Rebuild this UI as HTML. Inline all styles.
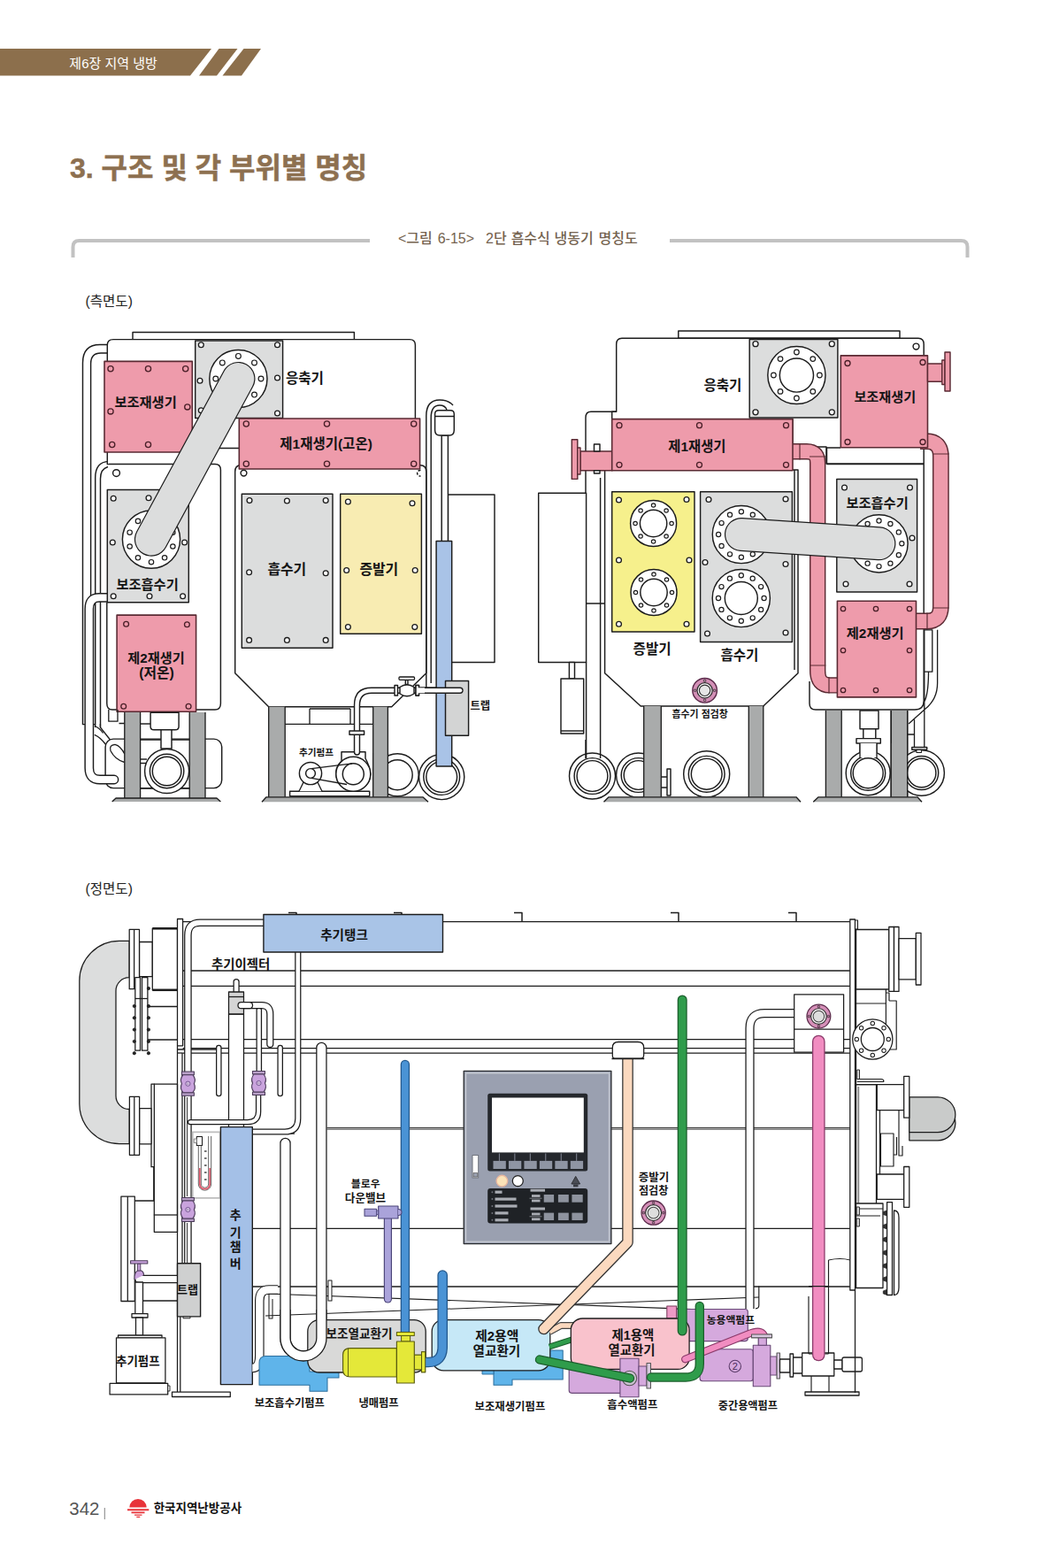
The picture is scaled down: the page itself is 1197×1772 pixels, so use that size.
<!DOCTYPE html>
<html lang="ko"><head><meta charset="utf-8"><title>제6장 지역 냉방</title>
<style>html,body{margin:0;padding:0;background:#fff}body{width:1197px;height:1772px;overflow:hidden;font-family:"Liberation Sans","Noto Sans CJK KR",sans-serif}svg{display:block}svg text{font-family:"Liberation Sans","Noto Sans CJK KR",sans-serif}.lb{fill:#141414;font-weight:700}</style></head>
<body><svg width="1197" height="1772" viewBox="0 0 1197 1772">
<path d="M0 55H239L215 85.5H0Z" fill="#8c6f4c"/>
<path d="M247.5 55H268.5L245 85.5H225Z" fill="#8c6f4c"/>
<path d="M275.5 55H295L273 85.5H251.5Z" fill="#8c6f4c"/>
<text x="78.33" y="76.58" font-size="15" fill="#fff">제6장 지역 냉방</text>
<text x="79.04" y="201.21" font-size="32" font-weight="700" fill="#8d7050" stroke="#8d7050" stroke-width="0.5">3. 구조 및 각 부위별 명칭</text>
<path d="M82.5 291V279Q82.5 272 89.5 272H418" fill="none" stroke="#c2c2c2" stroke-width="4"/>
<path d="M757 272H1086.5Q1093.5 272 1093.5 279V291" fill="none" stroke="#c2c2c2" stroke-width="4"/>
<text y="275.44" font-size="16" font-weight="500" fill="#75634f"><tspan x="449.95">&lt;그림</tspan> <tspan x="494.71">6-15&gt;</tspan> <tspan x="549">2단</tspan> <tspan x="577.63">흡수식</tspan> <tspan x="626.61">냉동기</tspan> <tspan x="676.58">명칭도</tspan></text>
<text x="96.47" y="345.59" font-size="15.6" fill="#222">(측면도)</text>
<text x="96.47" y="1010.44" font-size="15.6" fill="#222">(정면도)</text>
<text x="78.32" y="1711.93" font-size="20.4" fill="#555">342</text>
<line x1="118.30" y1="1704.00" x2="118.30" y2="1717.00" stroke="#888" stroke-width="1.06"/>
<path d="M146.3 1703.6A9.7 9.7 0 0 1 165.7 1703.6Z" fill="#e8333a"/>
<path d="M144 1705.2H168.3V1707.2H144Z M148.5 1708.6H163.5V1710.2H148.5Z M152 1711.4H160.5V1712.8H152Z M154.3 1713.8H158.3V1715H154.3Z" fill="#e8333a"/>
<text x="173.70" y="1709.30" font-size="13.5" font-weight="700" fill="#111">한국지역난방공사</text>
<g id="sideA" stroke-linejoin="round">
<path d="M122 389.4H113Q93.5 389.4 93.5 410V818.6H107 M122 399H114Q102.6 399 102.6 411V680" fill="none" stroke="#1c1c1c" stroke-width="1.45" />
<path d="M123 521.4Q107.7 522 107.7 540V822 M122 527.5Q113.5 530 113.5 541V822" fill="none" stroke="#1c1c1c" stroke-width="1.45" />
<rect x="119.10" y="835.10" width="131.60" height="55.50" fill="#fff" stroke="#1c1c1c" stroke-width="1.45" rx="9" />
<rect x="150.00" y="375.40" width="250.40" height="8.40" fill="#fff" stroke="#1c1c1c" stroke-width="1.45" />
<path d="M121.3 524.6V390Q121.3 383.6 128 383.6H463Q469.4 383.6 469.4 390V506.5H217V524.6Z" fill="#fff" stroke="#1c1c1c" stroke-width="1.45" />
<path d="M122.9 524.4H243Q249.4 524.4 249.4 531V795Q249.4 802 243 802H127Q120.8 802 120.8 795V681" fill="#fff" stroke="#1c1c1c" stroke-width="1.45" />
<circle cx="131.50" cy="534.60" r="3.90" fill="#fff" stroke="#1c1c1c" stroke-width="1.45"/>
<path d="M265.7 533Q265.7 525.7 272 525.7H475Q481.8 525.7 481.8 533V760.7L442.7 798.7H303.7L265.7 760.7Z" fill="#fff" stroke="#1c1c1c" stroke-width="1.45" />
<circle cx="275.50" cy="534.60" r="3.40" fill="#fff" stroke="#1c1c1c" stroke-width="1.45"/>
<path d="M475.5 531.5A3.3 3.3 0 1 0 475.5 538" fill="none" stroke="#1c1c1c" stroke-width="1.45" stroke-dasharray="3 1.6"/>
<rect x="506.40" y="559.00" width="52.60" height="189.40" fill="#fff" stroke="#1c1c1c" stroke-width="1.45" />
<rect x="118.00" y="408.40" width="99.30" height="102.60" fill="#ee9bab" stroke="#5a2a33" stroke-width="1.58" />
<circle cx="125.00" cy="416.70" r="3.10" fill="none" stroke="#4a1f28" stroke-width="1.32"/>
<circle cx="167.50" cy="416.70" r="3.10" fill="none" stroke="#4a1f28" stroke-width="1.32"/>
<circle cx="209.70" cy="416.70" r="3.10" fill="none" stroke="#4a1f28" stroke-width="1.32"/>
<circle cx="125.00" cy="464.90" r="3.10" fill="none" stroke="#4a1f28" stroke-width="1.32"/>
<circle cx="211.80" cy="459.90" r="3.10" fill="none" stroke="#4a1f28" stroke-width="1.32"/>
<circle cx="126.70" cy="502.50" r="3.10" fill="none" stroke="#4a1f28" stroke-width="1.32"/>
<circle cx="167.50" cy="502.50" r="3.10" fill="none" stroke="#4a1f28" stroke-width="1.32"/>
<rect x="220.70" y="385.00" width="98.90" height="87.50" fill="#dcdddd" stroke="#1c1c1c" stroke-width="1.45" />
<circle cx="227.30" cy="389.80" r="2.90" fill="#fff" stroke="#1c1c1c" stroke-width="1.32"/>
<circle cx="313.50" cy="389.80" r="2.90" fill="#fff" stroke="#1c1c1c" stroke-width="1.32"/>
<circle cx="226.00" cy="430.20" r="2.90" fill="#fff" stroke="#1c1c1c" stroke-width="1.32"/>
<circle cx="313.50" cy="427.00" r="2.90" fill="#fff" stroke="#1c1c1c" stroke-width="1.32"/>
<circle cx="227.30" cy="463.80" r="2.90" fill="#fff" stroke="#1c1c1c" stroke-width="1.32"/>
<circle cx="313.50" cy="467.00" r="2.90" fill="#fff" stroke="#1c1c1c" stroke-width="1.32"/>
<circle cx="269.40" cy="428.00" r="32.60" fill="#fff" stroke="#1c1c1c" stroke-width="1.45"/>
<circle cx="269.40" cy="402.40" r="2.90" fill="#fff" stroke="#1c1c1c" stroke-width="1.19"/>
<circle cx="251.30" cy="409.90" r="2.90" fill="#fff" stroke="#1c1c1c" stroke-width="1.19"/>
<circle cx="243.80" cy="428.00" r="2.90" fill="#fff" stroke="#1c1c1c" stroke-width="1.19"/>
<circle cx="251.30" cy="446.10" r="2.90" fill="#fff" stroke="#1c1c1c" stroke-width="1.19"/>
<circle cx="269.40" cy="453.60" r="2.90" fill="#fff" stroke="#1c1c1c" stroke-width="1.19"/>
<circle cx="287.50" cy="446.10" r="2.90" fill="#fff" stroke="#1c1c1c" stroke-width="1.19"/>
<circle cx="295.00" cy="428.00" r="2.90" fill="#fff" stroke="#1c1c1c" stroke-width="1.19"/>
<circle cx="287.50" cy="409.90" r="2.90" fill="#fff" stroke="#1c1c1c" stroke-width="1.19"/>
<path d="M126 675.4H112Q100.8 675.4 100.8 688V868Q100.8 881 113 881H129" fill="none" stroke="#1c1c1c" stroke-width="10.80" stroke-linecap="round" stroke-linejoin="round"/>
<path d="M126 675.4H112Q100.8 675.4 100.8 688V868Q100.8 881 113 881H129" fill="none" stroke="#fff" stroke-width="7.90" stroke-linecap="round" stroke-linejoin="round"/>
<rect x="121.30" y="553.50" width="92.00" height="127.30" fill="#dcdddd" stroke="#1c1c1c" stroke-width="1.45" />
<circle cx="128.20" cy="563.30" r="2.90" fill="#fff" stroke="#1c1c1c" stroke-width="1.32"/>
<circle cx="168.00" cy="562.70" r="2.90" fill="#fff" stroke="#1c1c1c" stroke-width="1.32"/>
<circle cx="127.30" cy="613.00" r="2.90" fill="#fff" stroke="#1c1c1c" stroke-width="1.32"/>
<circle cx="208.60" cy="613.00" r="2.90" fill="#fff" stroke="#1c1c1c" stroke-width="1.32"/>
<circle cx="128.20" cy="673.80" r="2.90" fill="#fff" stroke="#1c1c1c" stroke-width="1.32"/>
<circle cx="169.00" cy="673.80" r="2.90" fill="#fff" stroke="#1c1c1c" stroke-width="1.32"/>
<circle cx="206.60" cy="673.80" r="2.90" fill="#fff" stroke="#1c1c1c" stroke-width="1.32"/>
<circle cx="171.00" cy="609.60" r="32.60" fill="#fff" stroke="#1c1c1c" stroke-width="1.45"/>
<circle cx="171.00" cy="584.00" r="2.70" fill="#fff" stroke="#1c1c1c" stroke-width="1.19"/>
<circle cx="155.95" cy="588.89" r="2.70" fill="#fff" stroke="#1c1c1c" stroke-width="1.19"/>
<circle cx="146.65" cy="601.69" r="2.70" fill="#fff" stroke="#1c1c1c" stroke-width="1.19"/>
<circle cx="146.65" cy="617.51" r="2.70" fill="#fff" stroke="#1c1c1c" stroke-width="1.19"/>
<circle cx="155.95" cy="630.31" r="2.70" fill="#fff" stroke="#1c1c1c" stroke-width="1.19"/>
<circle cx="171.00" cy="635.20" r="2.70" fill="#fff" stroke="#1c1c1c" stroke-width="1.19"/>
<circle cx="186.05" cy="630.31" r="2.70" fill="#fff" stroke="#1c1c1c" stroke-width="1.19"/>
<circle cx="195.35" cy="617.51" r="2.70" fill="#fff" stroke="#1c1c1c" stroke-width="1.19"/>
<circle cx="195.35" cy="601.69" r="2.70" fill="#fff" stroke="#1c1c1c" stroke-width="1.19"/>
<circle cx="186.05" cy="588.89" r="2.70" fill="#fff" stroke="#1c1c1c" stroke-width="1.19"/>
<line x1="269.4" y1="428" x2="171" y2="609.6" stroke="#1c1c1c" stroke-width="38.2" stroke-linecap="round"/>
<line x1="269.4" y1="428" x2="171" y2="609.6" stroke="#dcdddd" stroke-width="35.8" stroke-linecap="round"/>
<rect x="270.30" y="473.00" width="204.30" height="57.00" fill="#ee9bab" stroke="#5a2a33" stroke-width="1.58" />
<circle cx="278.30" cy="479.00" r="3.10" fill="none" stroke="#4a1f28" stroke-width="1.32"/>
<circle cx="369.50" cy="479.00" r="3.10" fill="none" stroke="#4a1f28" stroke-width="1.32"/>
<circle cx="467.70" cy="479.00" r="3.10" fill="none" stroke="#4a1f28" stroke-width="1.32"/>
<circle cx="278.30" cy="524.20" r="3.10" fill="none" stroke="#4a1f28" stroke-width="1.32"/>
<circle cx="369.50" cy="524.20" r="3.10" fill="none" stroke="#4a1f28" stroke-width="1.32"/>
<circle cx="467.70" cy="524.20" r="3.10" fill="none" stroke="#4a1f28" stroke-width="1.32"/>
<rect x="273.30" y="558.30" width="102.70" height="174.00" fill="#dcdddd" stroke="#1c1c1c" stroke-width="1.45" />
<circle cx="282.00" cy="565.60" r="2.90" fill="#fff" stroke="#1c1c1c" stroke-width="1.32"/>
<circle cx="324.40" cy="566.00" r="2.90" fill="#fff" stroke="#1c1c1c" stroke-width="1.32"/>
<circle cx="368.20" cy="565.60" r="2.90" fill="#fff" stroke="#1c1c1c" stroke-width="1.32"/>
<circle cx="281.60" cy="646.70" r="2.90" fill="#fff" stroke="#1c1c1c" stroke-width="1.32"/>
<circle cx="368.20" cy="647.80" r="2.90" fill="#fff" stroke="#1c1c1c" stroke-width="1.32"/>
<circle cx="281.60" cy="723.40" r="2.90" fill="#fff" stroke="#1c1c1c" stroke-width="1.32"/>
<circle cx="324.40" cy="723.40" r="2.90" fill="#fff" stroke="#1c1c1c" stroke-width="1.32"/>
<circle cx="368.20" cy="723.40" r="2.90" fill="#fff" stroke="#1c1c1c" stroke-width="1.32"/>
<rect x="384.70" y="558.30" width="91.70" height="157.90" fill="#f8ecb2" stroke="#1c1c1c" stroke-width="1.45" />
<circle cx="393.40" cy="567.00" r="2.90" fill="#fff" stroke="#1c1c1c" stroke-width="1.32"/>
<circle cx="466.00" cy="568.70" r="2.90" fill="#fff" stroke="#1c1c1c" stroke-width="1.32"/>
<circle cx="391.70" cy="644.50" r="2.90" fill="#fff" stroke="#1c1c1c" stroke-width="1.32"/>
<circle cx="469.20" cy="644.50" r="2.90" fill="#fff" stroke="#1c1c1c" stroke-width="1.32"/>
<circle cx="393.40" cy="708.60" r="2.90" fill="#fff" stroke="#1c1c1c" stroke-width="1.32"/>
<circle cx="468.80" cy="708.60" r="2.90" fill="#fff" stroke="#1c1c1c" stroke-width="1.32"/>
<rect x="132.10" y="695.10" width="89.50" height="109.10" fill="#ee9bab" stroke="#5a2a33" stroke-width="1.58" />
<circle cx="142.60" cy="705.30" r="2.90" fill="none" stroke="#4a1f28" stroke-width="1.32"/>
<circle cx="211.40" cy="705.80" r="2.90" fill="none" stroke="#4a1f28" stroke-width="1.32"/>
<circle cx="139.70" cy="798.20" r="2.90" fill="none" stroke="#4a1f28" stroke-width="1.32"/>
<circle cx="213.10" cy="798.20" r="2.90" fill="none" stroke="#4a1f28" stroke-width="1.32"/>
<path d="M113.4 818V822L124.5 836 M106.8 820.5Q112.5 822.5 116.5 828.5 M106.8 830.3Q114 833.5 119.6 841.5" fill="none" stroke="#1c1c1c" stroke-width="1.32" />
<path d="M140.8 852Q136.5 843 130 841.3Q123 842 125 848.5Q130 858.5 140.8 861.5" fill="none" stroke="#1c1c1c" stroke-width="1.32" />
<path d="M122.8 802V815.2H133V802 M134.5 817.5H140.8" fill="none" stroke="#1c1c1c" stroke-width="1.32" />
<rect x="140.80" y="805.00" width="17.80" height="97.00" fill="#a9abab" stroke="none" stroke-width="0.0" />
<rect x="214.20" y="805.00" width="17.80" height="97.00" fill="#a9abab" stroke="none" stroke-width="0.0" />
<path d="M140.8 805V902 M158.6 805V902 M214.2 805V902 M232 805V902" fill="none" stroke="#1c1c1c" stroke-width="1.32" />
<line x1="158.60" y1="818.00" x2="170.00" y2="818.00" stroke="#1c1c1c" stroke-width="1.45"/>
<line x1="158.60" y1="836.00" x2="214.20" y2="836.00" stroke="#1c1c1c" stroke-width="1.45"/>
<line x1="158.60" y1="891.00" x2="214.20" y2="891.00" stroke="#1c1c1c" stroke-width="1.45"/>
<path d="M170.1 805.3H202.1V821Q202.1 824.8 198 824.8H174Q170.1 824.8 170.1 821Z" fill="#fff" stroke="#1c1c1c" stroke-width="1.45" />
<rect x="182.00" y="824.80" width="12.00" height="21.20" fill="#fff" stroke="#1c1c1c" stroke-width="1.45" />
<circle cx="188.60" cy="871.50" r="25.00" fill="#fff" stroke="#1c1c1c" stroke-width="1.45"/>
<circle cx="188.60" cy="871.50" r="19.20" fill="#fff" stroke="#1c1c1c" stroke-width="1.45"/>
<circle cx="188.60" cy="871.50" r="16.30" fill="#fff" stroke="#1c1c1c" stroke-width="1.45"/>
<line x1="158.60" y1="858.00" x2="166.00" y2="858.00" stroke="#1c1c1c" stroke-width="1.45"/>
<line x1="158.60" y1="862.50" x2="165.00" y2="862.50" stroke="#1c1c1c" stroke-width="1.45"/>
<path d="M126.7 906L131 902H245L249.4 906Z" fill="#a9abab" stroke="none" stroke-width="0.0" />
<path d="M126.7 906L131 902H245L249.4 906" fill="none" stroke="#1c1c1c" stroke-width="1.32" />
<rect x="303.70" y="798.70" width="18.50" height="102.30" fill="#a9abab" stroke="none" stroke-width="0.0" />
<rect x="421.70" y="798.70" width="16.70" height="102.30" fill="#a9abab" stroke="none" stroke-width="0.0" />
<path d="M303.7 798.7V901 M322.2 798.7V901 M421.7 798.7V901 M438.4 798.7V901" fill="none" stroke="#1c1c1c" stroke-width="1.32" />
<path d="M322.2 818.3H421.7 M350 801V818.3 M396 801V818.3 M350 801H396" fill="none" stroke="#1c1c1c" stroke-width="1.32" />
<rect x="327.60" y="894.30" width="90.10" height="5.40" fill="#fff" stroke="#1c1c1c" stroke-width="1.45" />
<path d="M338 894.3L343 884H359L364 894.3" fill="#fff" stroke="#1c1c1c" stroke-width="1.32" />
<path d="M386 849.8H413V857Q418 866 418.8 874.8A19.5 19.5 0 1 1 386 860Z" fill="#fff" stroke="#1c1c1c" stroke-width="1.45" />
<circle cx="399.30" cy="874.80" r="19.50" fill="#fff" stroke="#1c1c1c" stroke-width="1.45"/>
<circle cx="399.30" cy="874.80" r="12.00" fill="#fff" stroke="#1c1c1c" stroke-width="1.45"/>
<circle cx="351.00" cy="874.00" r="12.60" fill="#fff" stroke="#1c1c1c" stroke-width="1.45"/>
<circle cx="351.00" cy="874.00" r="5.40" fill="#fff" stroke="#1c1c1c" stroke-width="1.45"/>
<path d="M352 868.6L398 862.8 M352 879.4L392 886.5" fill="none" stroke="#1c1c1c" stroke-width="1.32" />
<path d="M403.5 850V797Q403.5 780.3 420 780.3H520" fill="none" stroke="#1c1c1c" stroke-width="7.40" stroke-linecap="round" stroke-linejoin="round"/>
<path d="M403.5 850V797Q403.5 780.3 420 780.3H520" fill="none" stroke="#fff" stroke-width="4.50" stroke-linecap="round" stroke-linejoin="round"/>
<rect x="395.00" y="826.00" width="16.60" height="4.20" fill="#fff" stroke="#1c1c1c" stroke-width="1.45" />
<rect x="446.00" y="774.50" width="3.50" height="11.50" fill="#fff" stroke="#1c1c1c" stroke-width="1.45" />
<rect x="470.00" y="774.50" width="3.50" height="11.50" fill="#fff" stroke="#1c1c1c" stroke-width="1.45" />
<path d="M452 776.5Q460 771 468 776.5V784Q460 789.5 452 784Z" fill="#fff" stroke="#1c1c1c" stroke-width="1.45" />
<rect x="458.30" y="768.50" width="2.70" height="5.00" fill="#fff" stroke="#1c1c1c" stroke-width="1.45" />
<rect x="451.00" y="765.00" width="17.50" height="3.30" fill="#fff" stroke="#1c1c1c" stroke-width="1.32" rx="1" />
<circle cx="449.20" cy="875.80" r="24.00" fill="#fff" stroke="#1c1c1c" stroke-width="1.45"/>
<circle cx="449.20" cy="875.80" r="17.00" fill="#fff" stroke="#1c1c1c" stroke-width="1.45"/>
<rect x="421.70" y="851.00" width="16.70" height="50.00" fill="#a9abab" stroke="none" stroke-width="0.0" />
<path d="M421.7 851V901 M438.4 851V901" fill="none" stroke="#1c1c1c" stroke-width="1.32" />
<circle cx="499.20" cy="878.00" r="25.60" fill="#fff" stroke="#1c1c1c" stroke-width="1.45"/>
<circle cx="499.20" cy="878.00" r="20.40" fill="#fff" stroke="#1c1c1c" stroke-width="1.45"/>
<circle cx="499.20" cy="878.00" r="17.40" fill="#fff" stroke="#1c1c1c" stroke-width="1.45"/>
<path d="M296 906.3L301 900.8H478L484 906.3Z" fill="#a9abab" stroke="none" stroke-width="0.0" />
<path d="M296 906.3L301 900.8H478L484 906.3" fill="none" stroke="#1c1c1c" stroke-width="1.32" />
<path d="M481.8 780V470Q481.8 452 497 452Q507 452 512 458 M487.2 772V472Q487.2 458 497 458Q503 458 505 463" fill="none" stroke="#1c1c1c" stroke-width="1.45" />
<rect x="499.20" y="492.00" width="7.20" height="120.00" fill="#fff" stroke="#1c1c1c" stroke-width="1.45" />
<path d="M491.6 468Q491.6 463.8 496 463.8H509Q513.3 463.8 513.3 468V486Q513.3 492 508 492H497Q491.6 492 491.6 486Z" fill="#fff" stroke="#1c1c1c" stroke-width="1.45" />
<line x1="491.60" y1="470.50" x2="513.30" y2="470.50" stroke="#1c1c1c" stroke-width="1.45"/>
<rect x="493.10" y="611.50" width="17.60" height="254.50" fill="#a9c3e7" stroke="#1c1c1c" stroke-width="1.45" />
<rect x="503.50" y="769.40" width="26.10" height="61.90" fill="#d3d4d4" stroke="#1c1c1c" stroke-width="1.45" />
<path d="M476 780.3H520" fill="none" stroke="#1c1c1c" stroke-width="7.40" stroke-linecap="round" stroke-linejoin="round"/>
<path d="M476 780.3H520" fill="none" stroke="#fff" stroke-width="4.50" stroke-linecap="round" stroke-linejoin="round"/>
<rect x="470.00" y="774.50" width="3.50" height="11.50" fill="#fff" stroke="#1c1c1c" stroke-width="1.45" />
<rect x="472" y="777.3" width="8" height="6" fill="#fff"/>
<text class="lb" x="129.40" y="459.52" font-size="15.3">보조재생기</text>
<text class="lb" x="322.91" y="432.87" font-size="15.6">응축기</text>
<text class="lb" x="316.30" y="507.18" font-size="15.5">제1재생기(고온)</text>
<text class="lb" x="131.40" y="665.94" font-size="15.3">보조흡수기</text>
<text class="lb" x="302.39" y="648.89" font-size="15.9">흡수기</text>
<text class="lb" x="406.39" y="648.87" font-size="15.9">증발기</text>
<text class="lb" x="144.31" y="748.97" font-size="15.2">제2재생기</text>
<text class="lb" x="157.2" y="766.38" font-size="15.8">(저온)</text>
<text class="lb" x="531.52" y="801.53" font-size="12.3">트랩</text>
<text class="lb" x="338.09" y="854.48" font-size="10.6">추기펌프</text>
</g>
<g id="sideB" stroke-linejoin="round">
<circle cx="669.50" cy="877.00" r="26.00" fill="#fff" stroke="#1c1c1c" stroke-width="1.45"/>
<circle cx="669.50" cy="877.00" r="20.40" fill="#fff" stroke="#1c1c1c" stroke-width="1.45"/>
<circle cx="669.50" cy="877.00" r="17.40" fill="#fff" stroke="#1c1c1c" stroke-width="1.45"/>
<circle cx="721.60" cy="876.00" r="25.00" fill="#fff" stroke="#1c1c1c" stroke-width="1.45"/>
<circle cx="721.60" cy="876.00" r="19.40" fill="#fff" stroke="#1c1c1c" stroke-width="1.45"/>
<circle cx="721.60" cy="876.00" r="16.40" fill="#fff" stroke="#1c1c1c" stroke-width="1.45"/>
<circle cx="798.70" cy="874.80" r="26.00" fill="#fff" stroke="#1c1c1c" stroke-width="1.45"/>
<circle cx="798.70" cy="874.80" r="20.40" fill="#fff" stroke="#1c1c1c" stroke-width="1.45"/>
<circle cx="798.70" cy="874.80" r="17.40" fill="#fff" stroke="#1c1c1c" stroke-width="1.45"/>
<rect x="608.70" y="557.20" width="53.90" height="191.20" fill="#fff" stroke="#1c1c1c" stroke-width="1.45" />
<rect x="643.40" y="748.40" width="6.10" height="18.60" fill="#fff" stroke="#1c1c1c" stroke-width="1.45" />
<rect x="634.00" y="767.00" width="25.70" height="62.00" fill="#fff" stroke="#1c1c1c" stroke-width="1.45" />
<line x1="634.00" y1="826.00" x2="659.70" y2="826.00" stroke="#1c1c1c" stroke-width="1.45"/>
<path d="M662.6 748.4V857 M678.6 540V857 M662.6 682H683.6" fill="none" stroke="#1c1c1c" stroke-width="1.45" />
<path d="M662 857V836" fill="none" stroke="#1c1c1c" stroke-width="1.45" />
<rect x="766.80" y="374.00" width="250.20" height="8.20" fill="#fff" stroke="#1c1c1c" stroke-width="1.45" />
<path d="M696.7 465.3V389Q696.7 382.2 703 382.2H1038Q1044.2 382.2 1044.2 389V524H934V505H896V473.6H691.7V465.3Z" fill="#fff" stroke="#1c1c1c" stroke-width="1.45" />
<path d="M696.7 465.3H668Q662 465.3 662 472V557" fill="none" stroke="#1c1c1c" stroke-width="1.45" />
<circle cx="1035.50" cy="391.50" r="3.40" fill="#fff" stroke="#1c1c1c" stroke-width="1.45"/>
<path d="M934.5 524.6H1044.2V792Q1044.2 802 1034 802H922Q915 802 915 795V770" fill="#fff" stroke="#1c1c1c" stroke-width="1.45" />
<path d="M934.5 524.6V506H950" fill="none" stroke="#1c1c1c" stroke-width="1.45" />
<path d="M683.6 531V760.7L724.2 798H862.8L902 760.7V531Z" fill="#fff" stroke="#1c1c1c" stroke-width="1.45" />
<line x1="898.00" y1="531.00" x2="898.00" y2="757.00" stroke="#1c1c1c" stroke-width="1.45"/>
<path d="M890 510.2H912Q924.2 510.2 924.2 523V758Q924.2 774.4 938 774.4H950" fill="none" stroke="#5a2a33" stroke-width="18.40" stroke-linecap="butt" stroke-linejoin="round"/>
<path d="M890 510.2H912Q924.2 510.2 924.2 523V758Q924.2 774.4 938 774.4H950" fill="none" stroke="#ee9bab" stroke-width="15.50" stroke-linecap="butt" stroke-linejoin="round"/>
<path d="M1040 498.6H1047Q1063.4 498.6 1063.4 516V685Q1063.4 702 1048 702H1030" fill="none" stroke="#5a2a33" stroke-width="18.80" stroke-linecap="butt" stroke-linejoin="round"/>
<path d="M1040 498.6H1047Q1063.4 498.6 1063.4 516V685Q1063.4 702 1048 702H1030" fill="none" stroke="#ee9bab" stroke-width="15.90" stroke-linecap="butt" stroke-linejoin="round"/>
<path d="M904 501V519.4 M915 516H933.4 M915 752H933.4 M937 765.2V783.6 M1054 513H1072.8 M1054 687H1072.8 M1048 692.6V711.4" fill="none" stroke="#5a2a33" stroke-width="1.19" />
<rect x="656.00" y="510.00" width="36.00" height="21.80" fill="#ee9bab" stroke="#5a2a33" stroke-width="1.45" />
<rect x="646.30" y="496.80" width="6.50" height="44.60" fill="#ee9bab" stroke="#5a2a33" stroke-width="1.45" />
<rect x="652.80" y="506.00" width="3.20" height="30.00" fill="#ee9bab" stroke="#5a2a33" stroke-width="1.32" />
<rect x="671.50" y="502.00" width="6.50" height="8.00" fill="#fff" stroke="#1c1c1c" stroke-width="1.45" />
<rect x="671.50" y="531.80" width="6.50" height="3.20" fill="#fff" stroke="#1c1c1c" stroke-width="1.45" />
<rect x="691.70" y="473.60" width="204.30" height="58.20" fill="#ee9bab" stroke="#5a2a33" stroke-width="1.58" />
<circle cx="700.00" cy="480.70" r="3.00" fill="none" stroke="#4a1f28" stroke-width="1.32"/>
<circle cx="790.50" cy="480.70" r="3.00" fill="none" stroke="#4a1f28" stroke-width="1.32"/>
<circle cx="888.50" cy="480.70" r="3.00" fill="none" stroke="#4a1f28" stroke-width="1.32"/>
<circle cx="700.00" cy="525.30" r="3.00" fill="none" stroke="#4a1f28" stroke-width="1.32"/>
<circle cx="790.50" cy="525.30" r="3.00" fill="none" stroke="#4a1f28" stroke-width="1.32"/>
<circle cx="888.50" cy="525.30" r="3.00" fill="none" stroke="#4a1f28" stroke-width="1.32"/>
<rect x="847.20" y="383.50" width="99.70" height="88.40" fill="#dcdddd" stroke="#1c1c1c" stroke-width="1.45" />
<circle cx="854.00" cy="388.70" r="3.00" fill="#fff" stroke="#1c1c1c" stroke-width="1.32"/>
<circle cx="940.30" cy="388.70" r="3.00" fill="#fff" stroke="#1c1c1c" stroke-width="1.32"/>
<circle cx="854.00" cy="465.80" r="3.00" fill="#fff" stroke="#1c1c1c" stroke-width="1.32"/>
<circle cx="940.30" cy="465.80" r="3.00" fill="#fff" stroke="#1c1c1c" stroke-width="1.32"/>
<circle cx="900.40" cy="424.00" r="32.60" fill="#fff" stroke="#1c1c1c" stroke-width="1.45"/>
<circle cx="900.40" cy="398.00" r="2.80" fill="#fff" stroke="#1c1c1c" stroke-width="1.19"/>
<circle cx="882.02" cy="405.62" r="2.80" fill="#fff" stroke="#1c1c1c" stroke-width="1.19"/>
<circle cx="874.40" cy="424.00" r="2.80" fill="#fff" stroke="#1c1c1c" stroke-width="1.19"/>
<circle cx="882.02" cy="442.38" r="2.80" fill="#fff" stroke="#1c1c1c" stroke-width="1.19"/>
<circle cx="900.40" cy="450.00" r="2.80" fill="#fff" stroke="#1c1c1c" stroke-width="1.19"/>
<circle cx="918.78" cy="442.38" r="2.80" fill="#fff" stroke="#1c1c1c" stroke-width="1.19"/>
<circle cx="926.40" cy="424.00" r="2.80" fill="#fff" stroke="#1c1c1c" stroke-width="1.19"/>
<circle cx="918.78" cy="405.62" r="2.80" fill="#fff" stroke="#1c1c1c" stroke-width="1.19"/>
<circle cx="900.40" cy="424.00" r="19.10" fill="#fff" stroke="#1c1c1c" stroke-width="1.45"/>
<rect x="950.30" y="401.90" width="98.20" height="103.80" fill="#ee9bab" stroke="#5a2a33" stroke-width="1.58" />
<circle cx="958.00" cy="410.50" r="3.00" fill="none" stroke="#4a1f28" stroke-width="1.32"/>
<circle cx="1043.00" cy="409.50" r="3.00" fill="none" stroke="#4a1f28" stroke-width="1.32"/>
<circle cx="958.00" cy="499.50" r="3.00" fill="none" stroke="#4a1f28" stroke-width="1.32"/>
<circle cx="1043.00" cy="499.50" r="3.00" fill="none" stroke="#4a1f28" stroke-width="1.32"/>
<rect x="1048.50" y="411.00" width="16.30" height="20.20" fill="#ee9bab" stroke="#5a2a33" stroke-width="1.45" />
<rect x="1064.80" y="407.00" width="3.20" height="27.50" fill="#ee9bab" stroke="#5a2a33" stroke-width="1.32" />
<rect x="1068.00" y="398.00" width="6.00" height="44.00" fill="#ee9bab" stroke="#5a2a33" stroke-width="1.45" />
<rect x="691.70" y="555.70" width="93.30" height="158.30" fill="#f6f08c" stroke="#1c1c1c" stroke-width="1.45" />
<circle cx="699.50" cy="565.00" r="2.90" fill="#fff" stroke="#1c1c1c" stroke-width="1.32"/>
<circle cx="776.00" cy="564.50" r="2.90" fill="#fff" stroke="#1c1c1c" stroke-width="1.32"/>
<circle cx="699.50" cy="633.00" r="2.90" fill="#fff" stroke="#1c1c1c" stroke-width="1.32"/>
<circle cx="779.00" cy="633.00" r="2.90" fill="#fff" stroke="#1c1c1c" stroke-width="1.32"/>
<circle cx="699.50" cy="705.30" r="2.90" fill="#fff" stroke="#1c1c1c" stroke-width="1.32"/>
<circle cx="776.00" cy="705.30" r="2.90" fill="#fff" stroke="#1c1c1c" stroke-width="1.32"/>
<circle cx="738.60" cy="591.50" r="26.00" fill="#fff" stroke="#1c1c1c" stroke-width="1.45"/>
<circle cx="738.60" cy="571.00" r="2.20" fill="#fff" stroke="#1c1c1c" stroke-width="1.19"/>
<circle cx="724.10" cy="577.00" r="2.20" fill="#fff" stroke="#1c1c1c" stroke-width="1.19"/>
<circle cx="718.10" cy="591.50" r="2.20" fill="#fff" stroke="#1c1c1c" stroke-width="1.19"/>
<circle cx="724.10" cy="606.00" r="2.20" fill="#fff" stroke="#1c1c1c" stroke-width="1.19"/>
<circle cx="738.60" cy="612.00" r="2.20" fill="#fff" stroke="#1c1c1c" stroke-width="1.19"/>
<circle cx="753.10" cy="606.00" r="2.20" fill="#fff" stroke="#1c1c1c" stroke-width="1.19"/>
<circle cx="759.10" cy="591.50" r="2.20" fill="#fff" stroke="#1c1c1c" stroke-width="1.19"/>
<circle cx="753.10" cy="577.00" r="2.20" fill="#fff" stroke="#1c1c1c" stroke-width="1.19"/>
<circle cx="738.60" cy="591.50" r="15.20" fill="#fff" stroke="#1c1c1c" stroke-width="1.45"/>
<circle cx="739.00" cy="669.50" r="26.00" fill="#fff" stroke="#1c1c1c" stroke-width="1.45"/>
<circle cx="739.00" cy="649.00" r="2.20" fill="#fff" stroke="#1c1c1c" stroke-width="1.19"/>
<circle cx="724.50" cy="655.00" r="2.20" fill="#fff" stroke="#1c1c1c" stroke-width="1.19"/>
<circle cx="718.50" cy="669.50" r="2.20" fill="#fff" stroke="#1c1c1c" stroke-width="1.19"/>
<circle cx="724.50" cy="684.00" r="2.20" fill="#fff" stroke="#1c1c1c" stroke-width="1.19"/>
<circle cx="739.00" cy="690.00" r="2.20" fill="#fff" stroke="#1c1c1c" stroke-width="1.19"/>
<circle cx="753.50" cy="684.00" r="2.20" fill="#fff" stroke="#1c1c1c" stroke-width="1.19"/>
<circle cx="759.50" cy="669.50" r="2.20" fill="#fff" stroke="#1c1c1c" stroke-width="1.19"/>
<circle cx="753.50" cy="655.00" r="2.20" fill="#fff" stroke="#1c1c1c" stroke-width="1.19"/>
<circle cx="739.00" cy="669.50" r="15.20" fill="#fff" stroke="#1c1c1c" stroke-width="1.45"/>
<rect x="791.60" y="555.70" width="103.80" height="169.80" fill="#dcdddd" stroke="#1c1c1c" stroke-width="1.45" />
<circle cx="801.00" cy="564.50" r="2.90" fill="#fff" stroke="#1c1c1c" stroke-width="1.32"/>
<circle cx="888.00" cy="564.00" r="2.90" fill="#fff" stroke="#1c1c1c" stroke-width="1.32"/>
<circle cx="797.00" cy="635.50" r="2.90" fill="#fff" stroke="#1c1c1c" stroke-width="1.32"/>
<circle cx="888.00" cy="637.50" r="2.90" fill="#fff" stroke="#1c1c1c" stroke-width="1.32"/>
<circle cx="799.50" cy="716.00" r="2.90" fill="#fff" stroke="#1c1c1c" stroke-width="1.32"/>
<circle cx="888.00" cy="715.00" r="2.90" fill="#fff" stroke="#1c1c1c" stroke-width="1.32"/>
<circle cx="837.90" cy="604.00" r="32.60" fill="#fff" stroke="#1c1c1c" stroke-width="1.45"/>
<circle cx="837.90" cy="578.20" r="2.60" fill="#fff" stroke="#1c1c1c" stroke-width="1.19"/>
<circle cx="825.00" cy="581.66" r="2.60" fill="#fff" stroke="#1c1c1c" stroke-width="1.19"/>
<circle cx="815.56" cy="591.10" r="2.60" fill="#fff" stroke="#1c1c1c" stroke-width="1.19"/>
<circle cx="812.10" cy="604.00" r="2.60" fill="#fff" stroke="#1c1c1c" stroke-width="1.19"/>
<circle cx="815.56" cy="616.90" r="2.60" fill="#fff" stroke="#1c1c1c" stroke-width="1.19"/>
<circle cx="825.00" cy="626.34" r="2.60" fill="#fff" stroke="#1c1c1c" stroke-width="1.19"/>
<circle cx="837.90" cy="629.80" r="2.60" fill="#fff" stroke="#1c1c1c" stroke-width="1.19"/>
<circle cx="850.80" cy="626.34" r="2.60" fill="#fff" stroke="#1c1c1c" stroke-width="1.19"/>
<circle cx="860.24" cy="616.90" r="2.60" fill="#fff" stroke="#1c1c1c" stroke-width="1.19"/>
<circle cx="863.70" cy="604.00" r="2.60" fill="#fff" stroke="#1c1c1c" stroke-width="1.19"/>
<circle cx="860.24" cy="591.10" r="2.60" fill="#fff" stroke="#1c1c1c" stroke-width="1.19"/>
<circle cx="850.80" cy="581.66" r="2.60" fill="#fff" stroke="#1c1c1c" stroke-width="1.19"/>
<circle cx="837.80" cy="676.00" r="32.60" fill="#fff" stroke="#1c1c1c" stroke-width="1.45"/>
<circle cx="837.80" cy="650.20" r="2.60" fill="#fff" stroke="#1c1c1c" stroke-width="1.19"/>
<circle cx="824.90" cy="653.66" r="2.60" fill="#fff" stroke="#1c1c1c" stroke-width="1.19"/>
<circle cx="815.46" cy="663.10" r="2.60" fill="#fff" stroke="#1c1c1c" stroke-width="1.19"/>
<circle cx="812.00" cy="676.00" r="2.60" fill="#fff" stroke="#1c1c1c" stroke-width="1.19"/>
<circle cx="815.46" cy="688.90" r="2.60" fill="#fff" stroke="#1c1c1c" stroke-width="1.19"/>
<circle cx="824.90" cy="698.34" r="2.60" fill="#fff" stroke="#1c1c1c" stroke-width="1.19"/>
<circle cx="837.80" cy="701.80" r="2.60" fill="#fff" stroke="#1c1c1c" stroke-width="1.19"/>
<circle cx="850.70" cy="698.34" r="2.60" fill="#fff" stroke="#1c1c1c" stroke-width="1.19"/>
<circle cx="860.14" cy="688.90" r="2.60" fill="#fff" stroke="#1c1c1c" stroke-width="1.19"/>
<circle cx="863.60" cy="676.00" r="2.60" fill="#fff" stroke="#1c1c1c" stroke-width="1.19"/>
<circle cx="860.14" cy="663.10" r="2.60" fill="#fff" stroke="#1c1c1c" stroke-width="1.19"/>
<circle cx="850.70" cy="653.66" r="2.60" fill="#fff" stroke="#1c1c1c" stroke-width="1.19"/>
<circle cx="837.80" cy="676.00" r="18.50" fill="#fff" stroke="#1c1c1c" stroke-width="1.45"/>
<rect x="945.80" y="541.40" width="90.80" height="127.60" fill="#dcdddd" stroke="#1c1c1c" stroke-width="1.45" />
<circle cx="954.50" cy="551.00" r="2.90" fill="#fff" stroke="#1c1c1c" stroke-width="1.32"/>
<circle cx="1028.50" cy="551.00" r="2.90" fill="#fff" stroke="#1c1c1c" stroke-width="1.32"/>
<circle cx="956.00" cy="660.00" r="2.90" fill="#fff" stroke="#1c1c1c" stroke-width="1.32"/>
<circle cx="1028.00" cy="660.00" r="2.90" fill="#fff" stroke="#1c1c1c" stroke-width="1.32"/>
<circle cx="1031.00" cy="608.00" r="2.90" fill="#fff" stroke="#1c1c1c" stroke-width="1.32"/>
<circle cx="993.50" cy="614.30" r="32.60" fill="#fff" stroke="#1c1c1c" stroke-width="1.45"/>
<circle cx="993.50" cy="588.50" r="2.60" fill="#fff" stroke="#1c1c1c" stroke-width="1.19"/>
<circle cx="980.60" cy="591.96" r="2.60" fill="#fff" stroke="#1c1c1c" stroke-width="1.19"/>
<circle cx="971.16" cy="601.40" r="2.60" fill="#fff" stroke="#1c1c1c" stroke-width="1.19"/>
<circle cx="967.70" cy="614.30" r="2.60" fill="#fff" stroke="#1c1c1c" stroke-width="1.19"/>
<circle cx="971.16" cy="627.20" r="2.60" fill="#fff" stroke="#1c1c1c" stroke-width="1.19"/>
<circle cx="980.60" cy="636.64" r="2.60" fill="#fff" stroke="#1c1c1c" stroke-width="1.19"/>
<circle cx="993.50" cy="640.10" r="2.60" fill="#fff" stroke="#1c1c1c" stroke-width="1.19"/>
<circle cx="1006.40" cy="636.64" r="2.60" fill="#fff" stroke="#1c1c1c" stroke-width="1.19"/>
<circle cx="1015.84" cy="627.20" r="2.60" fill="#fff" stroke="#1c1c1c" stroke-width="1.19"/>
<circle cx="1019.30" cy="614.30" r="2.60" fill="#fff" stroke="#1c1c1c" stroke-width="1.19"/>
<circle cx="1015.84" cy="601.40" r="2.60" fill="#fff" stroke="#1c1c1c" stroke-width="1.19"/>
<circle cx="1006.40" cy="591.96" r="2.60" fill="#fff" stroke="#1c1c1c" stroke-width="1.19"/>
<path d="M837.9 604L993.5 614.3" fill="none" stroke="#1c1c1c" stroke-width="38" stroke-linecap="round"/>
<path d="M837.9 604L993.5 614.3" fill="none" stroke="#dcdddd" stroke-width="35.6" stroke-linecap="round"/>
<rect x="946.40" y="679.30" width="89.10" height="108.60" fill="#ee9bab" stroke="#5a2a33" stroke-width="1.58" />
<circle cx="953.00" cy="688.00" r="2.70" fill="none" stroke="#4a1f28" stroke-width="1.32"/>
<circle cx="990.00" cy="688.00" r="2.70" fill="none" stroke="#4a1f28" stroke-width="1.32"/>
<circle cx="1028.00" cy="688.00" r="2.70" fill="none" stroke="#4a1f28" stroke-width="1.32"/>
<circle cx="953.00" cy="735.00" r="2.70" fill="none" stroke="#4a1f28" stroke-width="1.32"/>
<circle cx="1028.00" cy="735.00" r="2.70" fill="none" stroke="#4a1f28" stroke-width="1.32"/>
<circle cx="953.00" cy="780.00" r="2.70" fill="none" stroke="#4a1f28" stroke-width="1.32"/>
<circle cx="990.00" cy="780.00" r="2.70" fill="none" stroke="#4a1f28" stroke-width="1.32"/>
<circle cx="1028.00" cy="780.00" r="2.70" fill="none" stroke="#4a1f28" stroke-width="1.32"/>
<circle cx="796.60" cy="780.30" r="13.80" fill="#d38fb6" stroke="#5b2a4a" stroke-width="1.45"/>
<circle cx="796.60" cy="780.30" r="8.60" fill="#fff" stroke="#333" stroke-width="1.32"/>
<circle cx="796.60" cy="780.30" r="6.20" fill="#e6e6e6" stroke="#333" stroke-width="1.19"/>
<circle cx="807.60" cy="780.30" r="1.30" fill="#d38fb6" stroke="#333" stroke-width="0.92"/>
<circle cx="796.60" cy="791.30" r="1.30" fill="#d38fb6" stroke="#333" stroke-width="0.92"/>
<circle cx="785.60" cy="780.30" r="1.30" fill="#d38fb6" stroke="#333" stroke-width="0.92"/>
<circle cx="796.60" cy="769.30" r="1.30" fill="#d38fb6" stroke="#333" stroke-width="0.92"/>
<rect x="727.70" y="798.00" width="19.60" height="103.00" fill="#a9abab" stroke="none" stroke-width="0.0" />
<path d="M727.7 798.0V901 M747.3 798.0V901" fill="none" stroke="#1c1c1c" stroke-width="1.32" />
<rect x="846.30" y="798.00" width="16.50" height="103.00" fill="#a9abab" stroke="none" stroke-width="0.0" />
<path d="M846.3 798.0V901 M862.8 798.0V901" fill="none" stroke="#1c1c1c" stroke-width="1.32" />
<rect x="933.40" y="803.00" width="17.80" height="98.00" fill="#a9abab" stroke="none" stroke-width="0.0" />
<path d="M933.4 803.0V901 M951.2 803.0V901" fill="none" stroke="#1c1c1c" stroke-width="1.32" />
<rect x="1007.20" y="803.00" width="18.50" height="98.00" fill="#a9abab" stroke="none" stroke-width="0.0" />
<path d="M1007.2 803.0V901 M1025.7 803.0V901" fill="none" stroke="#1c1c1c" stroke-width="1.32" />
<rect x="972.00" y="803.00" width="21.00" height="20.70" fill="#fff" stroke="#1c1c1c" stroke-width="1.45" />
<rect x="975.80" y="823.70" width="14.00" height="10.90" fill="#fff" stroke="#1c1c1c" stroke-width="1.45" />
<rect x="968.00" y="834.60" width="27.30" height="5.40" fill="#fff" stroke="#1c1c1c" stroke-width="1.45" />
<path d="M972 840V850 M991 840V850" fill="none" stroke="#1c1c1c" stroke-width="1.32" />
<circle cx="981.20" cy="873.70" r="25.00" fill="#fff" stroke="#1c1c1c" stroke-width="1.45"/>
<circle cx="981.20" cy="873.70" r="19.50" fill="#fff" stroke="#1c1c1c" stroke-width="1.45"/>
<circle cx="981.20" cy="873.70" r="17.00" fill="#fff" stroke="#1c1c1c" stroke-width="1.45"/>
<rect x="972.00" y="840.00" width="19.00" height="16.00" fill="#fff" stroke="none" stroke-width="0.0" />
<path d="M972 840V857 M991 840V857" fill="none" stroke="#1c1c1c" stroke-width="1.32" />
<circle cx="1041.70" cy="873.50" r="25.70" fill="#fff" stroke="#1c1c1c" stroke-width="1.45"/>
<circle cx="1041.70" cy="873.50" r="19.00" fill="#fff" stroke="#1c1c1c" stroke-width="1.45"/>
<circle cx="1041.70" cy="873.50" r="16.20" fill="#fff" stroke="#1c1c1c" stroke-width="1.45"/>
<rect x="1007.20" y="840.00" width="18.50" height="61.00" fill="#a9abab" stroke="none" stroke-width="0.0" />
<path d="M1007.2 803V901 M1025.7 803V901" fill="none" stroke="#1c1c1c" stroke-width="1.32" />
<path d="M1044.8 711.8V844.4 M1044.8 711.8H1053.8V759.2H1044.8 M1059.6 711.8V772Q1059.6 790 1046 801L1027 818 M1049.5 759.2Q1049.5 784 1044.8 793 M1033.5 813.3V844.4 M1025.7 830H1033.5" fill="none" stroke="#1c1c1c" stroke-width="1.32" />
<rect x="1030.80" y="844.40" width="16.90" height="2.90" fill="#fff" stroke="#1c1c1c" stroke-width="1.45" />
<rect x="1036.00" y="847.30" width="5.40" height="3.20" fill="#fff" stroke="#1c1c1c" stroke-width="1.06" />
<rect x="754.00" y="869.00" width="4.00" height="30.00" fill="#fff" stroke="#1c1c1c" stroke-width="1.45" />
<path d="M747.3 878H754 M747.3 890H754" fill="none" stroke="#1c1c1c" stroke-width="1.32" />
<path d="M682.5 906.3L688 900.8H900L905 906.3Z" fill="#a9abab" stroke="none" stroke-width="0.0" />
<path d="M682.5 906.3L688 900.8H900L905 906.3" fill="none" stroke="#1c1c1c" stroke-width="1.32" />
<path d="M919.3 906.3L925 900.8H1037L1042 906.3Z" fill="#a9abab" stroke="none" stroke-width="0.0" />
<path d="M919.3 906.3L925 900.8H1037L1042 906.3" fill="none" stroke="#1c1c1c" stroke-width="1.32" />
<text class="lb" x="795.41" y="441.42" font-size="15.6">응축기</text>
<text class="lb" x="965.40" y="453.97" font-size="15.2">보조재생기</text>
<text class="lb" x="755.30" y="510.47" font-size="15.4">제1재생기</text>
<text class="lb" x="956.40" y="574.44" font-size="15.3">보조흡수기</text>
<text class="lb" x="715.61" y="738.97" font-size="15.6">증발기</text>
<text class="lb" x="814.41" y="746.49" font-size="15.6">흡수기</text>
<text class="lb" x="956.80" y="721.47" font-size="15.3">제2재생기</text>
<text class="lb" x="759.58" y="810.98" font-size="10.9">흡수기 점검창</text>
</g>
<g id="front" stroke-linejoin="round">
<path d="M326.0 1031.5H335.0V1041" fill="none" stroke="#1c1c1c" stroke-width="1.49" />
<path d="M445.0 1031.5H454.0V1041" fill="none" stroke="#1c1c1c" stroke-width="1.49" />
<path d="M581.0 1031.5H590.0V1041" fill="none" stroke="#1c1c1c" stroke-width="1.49" />
<path d="M758.0 1031.5H767.0V1041" fill="none" stroke="#1c1c1c" stroke-width="1.49" />
<path d="M891.0 1031.5H900.0V1041" fill="none" stroke="#1c1c1c" stroke-width="1.49" />
<line x1="206.60" y1="1041.70" x2="960.80" y2="1041.70" stroke="#1c1c1c" stroke-width="1.26"/>
<line x1="206.60" y1="1097.00" x2="960.80" y2="1097.00" stroke="#1c1c1c" stroke-width="1.26"/>
<line x1="206.60" y1="1114.40" x2="960.80" y2="1114.40" stroke="#1c1c1c" stroke-width="1.26"/>
<line x1="206.60" y1="1174.70" x2="960.80" y2="1174.70" stroke="#1c1c1c" stroke-width="1.26"/>
<line x1="206.60" y1="1184.60" x2="960.80" y2="1184.60" stroke="#1c1c1c" stroke-width="1.26"/>
<line x1="206.60" y1="1190.20" x2="960.80" y2="1190.20" stroke="#1c1c1c" stroke-width="1.26"/>
<line x1="369.50" y1="1274.40" x2="524.00" y2="1274.40" stroke="#1c1c1c" stroke-width="0.92"/>
<line x1="691.00" y1="1274.40" x2="960.80" y2="1274.40" stroke="#1c1c1c" stroke-width="0.92"/>
<line x1="369.50" y1="1276.10" x2="524.00" y2="1276.10" stroke="#1c1c1c" stroke-width="0.92"/>
<line x1="691.00" y1="1276.10" x2="960.80" y2="1276.10" stroke="#1c1c1c" stroke-width="0.92"/>
<line x1="285.30" y1="1388.30" x2="524.00" y2="1388.30" stroke="#1c1c1c" stroke-width="1.26"/>
<line x1="691.00" y1="1388.30" x2="960.80" y2="1388.30" stroke="#1c1c1c" stroke-width="1.26"/>
<line x1="285.30" y1="1454.00" x2="960.80" y2="1454.00" stroke="#1c1c1c" stroke-width="1.26"/>
<line x1="285.30" y1="1277.00" x2="333.00" y2="1277.00" stroke="#1c1c1c" stroke-width="1.26"/>
<line x1="285.30" y1="1281.00" x2="333.00" y2="1281.00" stroke="#1c1c1c" stroke-width="1.26"/>
<line x1="300.00" y1="1462.00" x2="795.00" y2="1480.00" stroke="#1c1c1c" stroke-width="1.03"/>
<line x1="300.00" y1="1487.00" x2="858.00" y2="1466.00" stroke="#1c1c1c" stroke-width="1.03"/>
<rect x="371.00" y="1447.00" width="4.00" height="23.00" fill="#fff" stroke="#1c1c1c" stroke-width="1.03" />
<path d="M146.2 1063.4H134.8A45 45 0 0 0 89.8 1108.4V1247.6A45 45 0 0 0 134.8 1292.6H146.2V1253.5H146A15 15 0 0 1 131 1238.5V1119.7A15 15 0 0 1 146 1104.7H146.2Z" fill="#dcdddd" stroke="#1c1c1c" stroke-width="1.26" />
<rect x="157.50" y="1064.50" width="14.80" height="39.10" fill="#fff" stroke="#1c1c1c" stroke-width="1.26" />
<rect x="172.30" y="1049.30" width="28.20" height="69.50" fill="#fff" stroke="#1c1c1c" stroke-width="1.26" />
<line x1="172.30" y1="1049.30" x2="200.50" y2="1049.30" stroke="#1c1c1c" stroke-width="2.53"/>
<line x1="172.30" y1="1118.80" x2="200.50" y2="1118.80" stroke="#1c1c1c" stroke-width="2.53"/>
<rect x="146.20" y="1050.40" width="11.30" height="67.30" fill="#fff" stroke="#1c1c1c" stroke-width="1.26" />
<line x1="151.60" y1="1050.40" x2="151.60" y2="1117.70" stroke="#1c1c1c" stroke-width="1.26"/>
<line x1="167.00" y1="1137.50" x2="200.50" y2="1137.50" stroke="#1c1c1c" stroke-width="1.26"/>
<line x1="167.00" y1="1175.00" x2="200.50" y2="1175.00" stroke="#1c1c1c" stroke-width="1.26"/>
<rect x="152.80" y="1104.70" width="5.70" height="82.50" fill="#fff" stroke="#1c1c1c" stroke-width="1.26" />
<rect x="160.50" y="1104.70" width="6.40" height="82.50" fill="#fff" stroke="#1c1c1c" stroke-width="1.26" />
<line x1="153.00" y1="1128.50" x2="166.90" y2="1128.50" stroke="#1c1c1c" stroke-width="1.26"/>
<circle cx="151.80" cy="1137.00" r="1.70" fill="#222" stroke="#1c1c1c" stroke-width="0.69"/>
<circle cx="167.90" cy="1137.00" r="1.70" fill="#222" stroke="#1c1c1c" stroke-width="0.69"/>
<circle cx="151.80" cy="1150.30" r="1.70" fill="#222" stroke="#1c1c1c" stroke-width="0.69"/>
<circle cx="167.90" cy="1150.30" r="1.70" fill="#222" stroke="#1c1c1c" stroke-width="0.69"/>
<circle cx="151.80" cy="1163.60" r="1.70" fill="#222" stroke="#1c1c1c" stroke-width="0.69"/>
<circle cx="167.90" cy="1163.60" r="1.70" fill="#222" stroke="#1c1c1c" stroke-width="0.69"/>
<circle cx="151.80" cy="1176.90" r="1.70" fill="#222" stroke="#1c1c1c" stroke-width="0.69"/>
<circle cx="167.90" cy="1176.90" r="1.70" fill="#222" stroke="#1c1c1c" stroke-width="0.69"/>
<circle cx="151.80" cy="1190.20" r="1.70" fill="#222" stroke="#1c1c1c" stroke-width="0.69"/>
<circle cx="167.90" cy="1190.20" r="1.70" fill="#222" stroke="#1c1c1c" stroke-width="0.69"/>
<circle cx="167.90" cy="1117.00" r="1.70" fill="#222" stroke="#1c1c1c" stroke-width="0.69"/>
<rect x="200.50" y="1038.50" width="6.10" height="143.30" fill="#fff" stroke="#1c1c1c" stroke-width="1.26" />
<line x1="200.50" y1="1186.00" x2="250.00" y2="1186.00" stroke="#1c1c1c" stroke-width="1.26"/>
<line x1="200.50" y1="1190.00" x2="206.60" y2="1190.00" stroke="#1c1c1c" stroke-width="1.26"/>
<rect x="174.30" y="1225.10" width="26.20" height="167.20" fill="#fff" stroke="#1c1c1c" stroke-width="1.26" />
<line x1="173.80" y1="1373.00" x2="200.50" y2="1373.00" stroke="#1c1c1c" stroke-width="1.26"/>
<rect x="171.00" y="1225.10" width="3.30" height="93.60" fill="#fff" stroke="#1c1c1c" stroke-width="1.26" />
<rect x="157.60" y="1252.70" width="13.40" height="40.10" fill="#fff" stroke="#1c1c1c" stroke-width="1.26" />
<rect x="146.40" y="1239.30" width="11.20" height="66.00" fill="#fff" stroke="#1c1c1c" stroke-width="1.26" />
<line x1="151.80" y1="1239.30" x2="151.80" y2="1305.30" stroke="#1c1c1c" stroke-width="1.26"/>
<path d="M152.3 1357H173.8V1318.7" fill="none" stroke="#1c1c1c" stroke-width="1.26" />
<rect x="136.90" y="1352.10" width="15.40" height="118.40" fill="#fff" stroke="#1c1c1c" stroke-width="1.26" />
<line x1="144.30" y1="1352.10" x2="144.30" y2="1470.50" stroke="#1c1c1c" stroke-width="1.26"/>
<line x1="152.30" y1="1470.00" x2="200.50" y2="1470.00" stroke="#1c1c1c" stroke-width="1.26"/>
<path d="M200.5 1181.8V1573 M206 1190V1428 M203.8 1488V1573" fill="none" stroke="#1c1c1c" stroke-width="1.26" />
<path d="M300 1042.7H226Q212.4 1042.7 212.4 1057V1428" fill="none" stroke="#1c1c1c" stroke-width="8.60" stroke-linecap="butt" stroke-linejoin="round"/>
<path d="M300 1042.7H226Q212.4 1042.7 212.4 1057V1428" fill="none" stroke="#fff" stroke-width="6.07" stroke-linecap="butt" stroke-linejoin="round"/>
<line x1="211.60" y1="1240.00" x2="211.60" y2="1352.00" stroke="#1c1c1c" stroke-width="0.92"/>
<line x1="211.60" y1="1382.00" x2="211.60" y2="1427.00" stroke="#1c1c1c" stroke-width="0.92"/>
<path d="M247.3 1184V1236" fill="none" stroke="#1c1c1c" stroke-width="6.60" stroke-linecap="round" stroke-linejoin="round"/>
<path d="M247.3 1184V1236" fill="none" stroke="#fff" stroke-width="4.07" stroke-linecap="round" stroke-linejoin="round"/>
<path d="M316.7 1184V1236" fill="none" stroke="#1c1c1c" stroke-width="6.60" stroke-linecap="round" stroke-linejoin="round"/>
<path d="M316.7 1184V1236" fill="none" stroke="#fff" stroke-width="4.07" stroke-linecap="round" stroke-linejoin="round"/>
<path d="M267.1 1121V1109.5" fill="none" stroke="#1c1c1c" stroke-width="7.20" stroke-linecap="round" stroke-linejoin="round"/>
<path d="M267.1 1121V1109.5" fill="none" stroke="#fff" stroke-width="4.67" stroke-linecap="round" stroke-linejoin="round"/>
<rect x="258.50" y="1146.00" width="17.00" height="128.00" fill="#fff" stroke="#1c1c1c" stroke-width="1.26" />
<path d="M292.8 1210V1141.5" fill="none" stroke="#1c1c1c" stroke-width="6.60" stroke-linecap="round" stroke-linejoin="round"/>
<path d="M292.8 1210V1141.5" fill="none" stroke="#fff" stroke-width="4.07" stroke-linecap="round" stroke-linejoin="round"/>
<path d="M274 1136.2H296Q305.3 1136.2 305.3 1146V1180" fill="none" stroke="#1c1c1c" stroke-width="8.20" stroke-linecap="round" stroke-linejoin="round"/>
<path d="M274 1136.2H296Q305.3 1136.2 305.3 1146V1180" fill="none" stroke="#fff" stroke-width="5.67" stroke-linecap="round" stroke-linejoin="round"/>
<rect x="258.50" y="1121.00" width="17.00" height="25.00" fill="#d4d4d4" stroke="#1c1c1c" stroke-width="1.26" />
<line x1="258.50" y1="1126.50" x2="275.50" y2="1126.50" stroke="#1c1c1c" stroke-width="1.26"/>
<path d="M272.5 1136.2H282" fill="none" stroke="#1c1c1c" stroke-width="8.20" stroke-linecap="round" stroke-linejoin="round"/>
<path d="M272.5 1136.2H282" fill="none" stroke="#fff" stroke-width="5.67" stroke-linecap="round" stroke-linejoin="round"/>
<path d="M292.1 1236V1256Q292.1 1268.1 280 1268.1H215" fill="none" stroke="#1c1c1c" stroke-width="6.40" stroke-linecap="round" stroke-linejoin="round"/>
<path d="M292.1 1236V1256Q292.1 1268.1 280 1268.1H215" fill="none" stroke="#fff" stroke-width="3.87" stroke-linecap="round" stroke-linejoin="round"/>
<path d="M336.8 1076V1264Q336.8 1279 322 1279H285.3" fill="none" stroke="#1c1c1c" stroke-width="7.20" stroke-linecap="butt" stroke-linejoin="round"/>
<path d="M336.8 1076V1264Q336.8 1279 322 1279H285.3" fill="none" stroke="#fff" stroke-width="4.67" stroke-linecap="butt" stroke-linejoin="round"/>
<path d="M322.5 1292V1512A20.45 20.45 0 0 0 363.4 1512V1184" fill="none" stroke="#1c1c1c" stroke-width="12.40" stroke-linecap="round" stroke-linejoin="round"/>
<path d="M322.5 1292V1512A20.45 20.45 0 0 0 363.4 1512V1184" fill="none" stroke="#fff" stroke-width="9.87" stroke-linecap="round" stroke-linejoin="round"/>
<rect x="297.90" y="1033.50" width="202.60" height="42.50" fill="#a9c4e7" stroke="#1c1c1c" stroke-width="1.38" />
<rect x="217.70" y="1279.40" width="31.00" height="74.40" fill="#fff" stroke="#bdbdbd" stroke-width="1.84" />
<rect x="222.30" y="1284.50" width="6.20" height="10.00" fill="#fff" stroke="#1c1c1c" stroke-width="1.03" />
<rect x="219.20" y="1287.00" width="3.10" height="4.50" fill="#eee" stroke="#777" stroke-width="0.8" />
<path d="M224.3 1294.5V1338A7.2 7.2 0 0 0 238.7 1338V1284 M227.3 1294.5V1338A4.2 4.2 0 0 0 235.7 1338V1284" fill="none" stroke="#555" stroke-width="0.92" />
<path d="M225.8 1320V1338A5.7 5.7 0 0 0 237.2 1338V1320" fill="none" stroke="#de5a6c" stroke-width="1.72" />
<line x1="231.00" y1="1301.00" x2="233.60" y2="1301.00" stroke="#333" stroke-width="1.38"/>
<line x1="231.00" y1="1309.00" x2="233.60" y2="1309.00" stroke="#333" stroke-width="1.38"/>
<line x1="231.00" y1="1317.00" x2="233.60" y2="1317.00" stroke="#333" stroke-width="1.38"/>
<line x1="231.00" y1="1325.00" x2="233.60" y2="1325.00" stroke="#333" stroke-width="1.38"/>
<line x1="231.00" y1="1333.00" x2="233.60" y2="1333.00" stroke="#333" stroke-width="1.38"/>
<rect x="205.40" y="1211.10" width="14.00" height="3.60" fill="#b9a0c8" stroke="#4a3a58" stroke-width="1.03" />
<rect x="205.40" y="1234.70" width="14.00" height="3.60" fill="#b9a0c8" stroke="#4a3a58" stroke-width="1.03" />
<path d="M206.9 1214.7Q202.9 1219.7 205.4 1224.7Q202.9 1229.7 206.9 1234.7H217.9Q221.9 1229.7 219.4 1224.7Q221.9 1219.7 217.9 1214.7Z" fill="#c9a3dd" stroke="#4a3a58" stroke-width="1.15" />
<circle cx="212.40" cy="1224.70" r="2.60" fill="#e3cdef" stroke="#6a4a88" stroke-width="0.92"/>
<circle cx="212.40" cy="1224.70" r="0.90" fill="#fff" stroke="#6a4a88" stroke-width="0.57"/>
<rect x="285.50" y="1210.40" width="14.00" height="3.60" fill="#b9a0c8" stroke="#4a3a58" stroke-width="1.03" />
<rect x="285.50" y="1234.00" width="14.00" height="3.60" fill="#b9a0c8" stroke="#4a3a58" stroke-width="1.03" />
<path d="M287.0 1214.0Q283.0 1219.0 285.5 1224.0Q283.0 1229.0 287.0 1234.0H298.0Q302.0 1229.0 299.5 1224.0Q302.0 1219.0 298.0 1214.0Z" fill="#c9a3dd" stroke="#4a3a58" stroke-width="1.15" />
<circle cx="292.50" cy="1224.00" r="2.60" fill="#e3cdef" stroke="#6a4a88" stroke-width="0.92"/>
<circle cx="292.50" cy="1224.00" r="0.90" fill="#fff" stroke="#6a4a88" stroke-width="0.57"/>
<rect x="205.40" y="1353.40" width="14.00" height="3.60" fill="#b9a0c8" stroke="#4a3a58" stroke-width="1.03" />
<rect x="205.40" y="1377.00" width="14.00" height="3.60" fill="#b9a0c8" stroke="#4a3a58" stroke-width="1.03" />
<path d="M206.9 1357.0Q202.9 1362.0 205.4 1367.0Q202.9 1372.0 206.9 1377.0H217.9Q221.9 1372.0 219.4 1367.0Q221.9 1362.0 217.9 1357.0Z" fill="#c9a3dd" stroke="#4a3a58" stroke-width="1.15" />
<circle cx="212.40" cy="1367.00" r="2.60" fill="#e3cdef" stroke="#6a4a88" stroke-width="0.92"/>
<circle cx="212.40" cy="1367.00" r="0.90" fill="#fff" stroke="#6a4a88" stroke-width="0.57"/>
<rect x="249.40" y="1273.60" width="35.90" height="291.00" fill="#a4c0e7" stroke="#1c1c1c" stroke-width="1.38" />
<path d="M157 1445.5H203" fill="none" stroke="#1c1c1c" stroke-width="9.60" stroke-linecap="round" stroke-linejoin="round"/>
<path d="M157 1445.5H203" fill="none" stroke="#fff" stroke-width="7.07" stroke-linecap="round" stroke-linejoin="round"/>
<rect x="200.50" y="1427.70" width="26.10" height="60.20" fill="#cfd0d0" stroke="#1c1c1c" stroke-width="1.38" />
<rect x="207.00" y="1487.90" width="8.00" height="1.90" fill="#ddd" stroke="#1c1c1c" stroke-width="0.92" />
<rect x="152.80" y="1449.00" width="8.70" height="36.00" fill="#fff" stroke="#1c1c1c" stroke-width="1.26" />
<rect x="149.00" y="1484.60" width="18.00" height="4.40" fill="#fff" stroke="#1c1c1c" stroke-width="1.26" />
<rect x="153.50" y="1489.00" width="8.00" height="20.50" fill="#fff" stroke="#1c1c1c" stroke-width="1.26" />
<path d="M152 1446Q151.5 1436 157.5 1435.5Q162.5 1436 162.5 1441" fill="#c9a3dd" stroke="#4a3a58" stroke-width="1.15" />
<rect x="155.60" y="1428.00" width="3.20" height="8.00" fill="#c9a3dd" stroke="#4a3a58" stroke-width="0.92" />
<rect x="147.60" y="1424.80" width="19.20" height="3.20" fill="#c9a3dd" stroke="#4a3a58" stroke-width="1.03" />
<rect x="133.50" y="1509.00" width="49.50" height="3.00" fill="#fff" stroke="#1c1c1c" stroke-width="1.26" />
<rect x="131.50" y="1511.80" width="55.40" height="51.00" fill="#fff" stroke="#1c1c1c" stroke-width="1.26" />
<rect x="124.10" y="1563.30" width="65.60" height="12.60" fill="#fff" stroke="#1c1c1c" stroke-width="1.26" />
<rect x="189.70" y="1566.00" width="2.30" height="6.00" fill="#fff" stroke="#1c1c1c" stroke-width="0.92" />
<rect x="194.50" y="1573.20" width="65.80" height="5.30" fill="#fff" stroke="#1c1c1c" stroke-width="1.26" />
<path d="M314 1457.5H304Q293.3 1457.5 293.3 1470V1532Q293.3 1546 285.3 1546" fill="none" stroke="#1c1c1c" stroke-width="10.60" stroke-linecap="butt" stroke-linejoin="round"/>
<path d="M314 1457.5H304Q293.3 1457.5 293.3 1470V1532Q293.3 1546 285.3 1546" fill="none" stroke="#fff" stroke-width="8.30" stroke-linecap="butt" stroke-linejoin="round"/>
<path d="M304 1462V1490H308V1468" fill="none" stroke="#1c1c1c" stroke-width="1.03" />
<path d="M293 1540Q293 1533 300 1532.5H350V1550H383V1557H370V1572.3H350V1565.3H293Z" fill="#5fb4ea" stroke="#2e6f9d" stroke-width="1.03" />
<rect x="347.80" y="1491.60" width="133.40" height="59.40" fill="#d9d9d8" stroke="#1c1c1c" stroke-width="1.26" rx="13" />
<path d="M322.5 1480V1512A20.45 20.45 0 0 0 363.4 1512V1480" fill="none" stroke="#1c1c1c" stroke-width="12.40" stroke-linecap="butt" stroke-linejoin="round"/>
<path d="M322.5 1480V1512A20.45 20.45 0 0 0 363.4 1512V1480" fill="none" stroke="#fff" stroke-width="9.87" stroke-linecap="butt" stroke-linejoin="round"/>
<path d="M558 1526H636.2V1559H579V1565.3H558Z" fill="#5fb4ea" stroke="#2e6f9d" stroke-width="1.03" />
<rect x="545.00" y="1548.00" width="13.00" height="5.00" fill="#5fb4ea" stroke="#2e6f9d" stroke-width="0.92" />
<rect x="488.20" y="1491.60" width="133.60" height="57.20" fill="#c6e8f7" stroke="#1c1c1c" stroke-width="1.26" rx="13" />
<rect x="757.00" y="1479.50" width="88.30" height="36.10" fill="#d5a9dd" stroke="#6a4a78" stroke-width="1.15" rx="3" />
<rect x="753.80" y="1476.00" width="10.80" height="14.00" fill="#ee9ac6" stroke="#7a3a5a" stroke-width="1.03" />
<rect x="643.20" y="1541.00" width="77.30" height="33.30" fill="#d5a9dd" stroke="#6a4a78" stroke-width="1.15" rx="3" />
<path d="M621 1522L646 1514" fill="none" stroke="#1c5e2d" stroke-width="7.00" stroke-linecap="butt" stroke-linejoin="round"/>
<path d="M621 1522L646 1514" fill="none" stroke="#2f9c4b" stroke-width="4.70" stroke-linecap="butt" stroke-linejoin="round"/>
<path d="M621 1505L634 1498H650" fill="none" stroke="#444" stroke-width="8.00" stroke-linecap="butt" stroke-linejoin="round"/>
<path d="M621 1505L634 1498H650" fill="none" stroke="#fbd9bf" stroke-width="5.70" stroke-linecap="butt" stroke-linejoin="round"/>
<rect x="645.30" y="1490.00" width="133.80" height="57.40" fill="#f9c2cc" stroke="#1c1c1c" stroke-width="1.26" rx="13" />
<rect x="791.10" y="1524.70" width="60.20" height="36.10" fill="#d5a9dd" stroke="#6a4a78" stroke-width="1.15" rx="3" />
<rect x="851.30" y="1520.20" width="19.50" height="46.60" fill="#d5a9dd" stroke="#6a4a78" stroke-width="1.15" />
<rect x="857.30" y="1511.70" width="9.00" height="8.50" fill="#d5a9dd" stroke="#6a4a78" stroke-width="1.03" />
<rect x="849.50" y="1508.00" width="23.00" height="3.70" fill="#d8c8de" stroke="#555" stroke-width="1.03" />
<rect x="870.80" y="1533.00" width="7.20" height="21.00" fill="#d5a9dd" stroke="#6a4a78" stroke-width="1.03" />
<rect x="878.00" y="1529.00" width="3.50" height="29.00" fill="#d8c8de" stroke="#555" stroke-width="1.03" />
<rect x="881.50" y="1536.00" width="11.50" height="15.00" fill="#fff" stroke="#1c1c1c" stroke-width="1.26" />
<rect x="893.00" y="1530.00" width="3.60" height="26.00" fill="#fff" stroke="#1c1c1c" stroke-width="1.26" />
<rect x="896.60" y="1534.00" width="10.10" height="18.00" fill="#fff" stroke="#1c1c1c" stroke-width="1.26" />
<circle cx="830.80" cy="1544.00" r="6.70" fill="none" stroke="#5a3a68" stroke-width="1.03"/>
<text x="827.75" y="1548.00" font-size="11" fill="#4a2a58">2</text>
<path d="M917 1555V1573 M937 1555V1573" fill="none" stroke="#1c1c1c" stroke-width="1.15" />
<rect x="906.70" y="1529.00" width="36.10" height="26.00" fill="#fff" stroke="#1c1c1c" stroke-width="1.26" />
<rect x="910.00" y="1573.00" width="61.00" height="4.00" fill="#fff" stroke="#1c1c1c" stroke-width="1.26" />
<rect x="942.80" y="1537.00" width="9.20" height="10.00" fill="#fff" stroke="#1c1c1c" stroke-width="1.26" />
<rect x="952.00" y="1534.00" width="22.40" height="16.00" fill="#fff" stroke="#1c1c1c" stroke-width="1.26" rx="2" />
<rect x="700.90" y="1535.20" width="21.10" height="43.60" fill="#d5a9dd" stroke="#6a4a78" stroke-width="1.15" />
<rect x="722.00" y="1544.00" width="9.00" height="22.00" fill="#d5a9dd" stroke="#6a4a78" stroke-width="1.03" />
<rect x="731.00" y="1540.50" width="4.50" height="28.50" fill="#d8c8de" stroke="#555" stroke-width="1.03" />
<circle cx="711.50" cy="1557.50" r="8.20" fill="#c9c0cf" stroke="#555" stroke-width="1.03"/>
<path d="M774.5 1536L846 1507.5Q858 1502.5 862 1507L863.5 1509" fill="none" stroke="#8a3a6a" stroke-width="8.80" stroke-linecap="round" stroke-linejoin="round"/>
<path d="M774.5 1536L846 1507.5Q858 1502.5 862 1507L863.5 1509" fill="none" stroke="#f18dc1" stroke-width="6.50" stroke-linecap="round" stroke-linejoin="round"/>
<rect x="857.30" y="1511.70" width="9.00" height="8.50" fill="#d5a9dd" stroke="#6a4a78" stroke-width="1.03" />
<rect x="849.50" y="1508.00" width="23.00" height="3.70" fill="#d8c8de" stroke="#555" stroke-width="1.03" />
<path d="M771.2 1130V1504" fill="none" stroke="#1c5e2d" stroke-width="11.00" stroke-linecap="round" stroke-linejoin="round"/>
<path d="M771.2 1130V1504" fill="none" stroke="#2f9c4b" stroke-width="8.47" stroke-linecap="round" stroke-linejoin="round"/>
<path d="M790.8 1476V1541Q790.8 1556.5 775 1556.5H736" fill="none" stroke="#1c5e2d" stroke-width="10.40" stroke-linecap="round" stroke-linejoin="round"/>
<path d="M790.8 1476V1541Q790.8 1556.5 775 1556.5H736" fill="none" stroke="#2f9c4b" stroke-width="7.87" stroke-linecap="round" stroke-linejoin="round"/>
<path d="M610 1536.5L712 1557.5" fill="none" stroke="#1c5e2d" stroke-width="10.40" stroke-linecap="round" stroke-linejoin="round"/>
<path d="M610 1536.5L712 1557.5" fill="none" stroke="#2f9c4b" stroke-width="7.87" stroke-linecap="round" stroke-linejoin="round"/>
<path d="M709.5 1197V1404L614.5 1502" fill="none" stroke="#333" stroke-width="12.60" stroke-linecap="round" stroke-linejoin="round"/>
<path d="M709.5 1197V1404L614.5 1502" fill="none" stroke="#fbd9bf" stroke-width="10.07" stroke-linecap="round" stroke-linejoin="round"/>
<path d="M696 1196.4Q691.9 1196.4 692.3 1192V1184Q692.3 1177.5 699 1177.5H721Q727.7 1177.5 727.7 1184V1192Q727.7 1196.4 724 1196.4Z" fill="#fff" stroke="#1c1c1c" stroke-width="1.26" />
<line x1="691.50" y1="1196.40" x2="728.20" y2="1196.40" stroke="#1c1c1c" stroke-width="1.84"/>
<path d="M396 1523.6H448.4V1556H396Q387.6 1556 387.6 1548V1531Q387.6 1523.6 396 1523.6Z" fill="#e4e839" stroke="#5a5c10" stroke-width="1.15" />
<line x1="393.50" y1="1523.60" x2="393.50" y2="1556.00" stroke="#5a5c10" stroke-width="0.92"/>
<rect x="468.30" y="1531.30" width="9.40" height="16.40" fill="#e4e839" stroke="#5a5c10" stroke-width="1.03" />
<rect x="476.50" y="1527.80" width="4.20" height="23.00" fill="#e4e839" stroke="#5a5c10" stroke-width="1.03" />
<path d="M457.9 1203V1506" fill="none" stroke="#23588c" stroke-width="10.40" stroke-linecap="round" stroke-linejoin="round"/>
<path d="M457.9 1203V1506" fill="none" stroke="#4a93d5" stroke-width="7.87" stroke-linecap="round" stroke-linejoin="round"/>
<path d="M481 1539.5H484Q500.2 1539.5 500.2 1522V1441" fill="none" stroke="#23588c" stroke-width="11.60" stroke-linecap="round" stroke-linejoin="round"/>
<path d="M481 1539.5H484Q500.2 1539.5 500.2 1522V1441" fill="none" stroke="#4a93d5" stroke-width="9.07" stroke-linecap="round" stroke-linejoin="round"/>
<rect x="468.30" y="1531.30" width="9.40" height="16.40" fill="#e4e839" stroke="#5a5c10" stroke-width="1.03" />
<rect x="476.50" y="1527.80" width="4.20" height="23.00" fill="#e4e839" stroke="#5a5c10" stroke-width="1.03" />
<rect x="453.60" y="1509.60" width="10.00" height="6.40" fill="#e4e839" stroke="#5a5c10" stroke-width="1.03" />
<rect x="448.40" y="1505.60" width="19.90" height="4.00" fill="#e4e839" stroke="#5a5c10" stroke-width="1.03" />
<rect x="448.40" y="1516.00" width="19.90" height="47.00" fill="#e4e839" stroke="#5a5c10" stroke-width="1.15" />
<path d="M438.4 1377V1468" fill="none" stroke="#4a4478" stroke-width="9.20" stroke-linecap="round" stroke-linejoin="round"/>
<path d="M438.4 1377V1468" fill="none" stroke="#aaa3da" stroke-width="6.90" stroke-linecap="round" stroke-linejoin="round"/>
<rect x="427.70" y="1363.00" width="22.30" height="14.00" fill="#aaa3da" stroke="#4a4478" stroke-width="1.15" />
<rect x="412.00" y="1366.20" width="13.60" height="8.10" fill="#aaa3da" stroke="#4a4478" stroke-width="1.03" />
<rect x="425.60" y="1368.00" width="2.10" height="4.50" fill="#aaa3da" stroke="#4a4478" stroke-width="0.8" />
<path d="M450 1366.5Q454 1366.5 454 1370Q454 1373.5 450 1373.5" fill="#aaa3da" stroke="#4a4478" stroke-width="1.03" />
<circle cx="738.60" cy="1370.60" r="13.60" fill="#d58fb8" stroke="#5b2a4a" stroke-width="1.26"/>
<circle cx="738.60" cy="1370.60" r="8.98" fill="#f3f3f3" stroke="#333" stroke-width="1.15"/>
<circle cx="738.60" cy="1370.60" r="6.39" fill="#dedede" stroke="#444" stroke-width="1.03"/>
<circle cx="749.75" cy="1370.60" r="1.30" fill="#b86f9c" stroke="#333" stroke-width="0.8"/>
<circle cx="738.60" cy="1381.75" r="1.30" fill="#b86f9c" stroke="#333" stroke-width="0.8"/>
<circle cx="727.45" cy="1370.60" r="1.30" fill="#b86f9c" stroke="#333" stroke-width="0.8"/>
<circle cx="738.60" cy="1359.45" r="1.30" fill="#b86f9c" stroke="#333" stroke-width="0.8"/>
<path d="M899 1145.2H864Q847.5 1145.2 847.5 1162V1479" fill="none" stroke="#1c1c1c" stroke-width="10.20" stroke-linecap="butt" stroke-linejoin="round"/>
<path d="M899 1145.2H864Q847.5 1145.2 847.5 1162V1479" fill="none" stroke="#fff" stroke-width="7.67" stroke-linecap="butt" stroke-linejoin="round"/>
<rect x="897.70" y="1123.80" width="55.90" height="65.40" fill="#fff" stroke="#1c1c1c" stroke-width="1.26" />
<line x1="897.70" y1="1163.20" x2="953.60" y2="1163.20" stroke="#1c1c1c" stroke-width="1.26"/>
<circle cx="925.40" cy="1148.60" r="13.40" fill="#d58fb8" stroke="#5b2a4a" stroke-width="1.26"/>
<circle cx="925.40" cy="1148.60" r="8.84" fill="#f3f3f3" stroke="#333" stroke-width="1.15"/>
<circle cx="925.40" cy="1148.60" r="6.30" fill="#dedede" stroke="#444" stroke-width="1.03"/>
<circle cx="936.39" cy="1148.60" r="1.30" fill="#b86f9c" stroke="#333" stroke-width="0.8"/>
<circle cx="925.40" cy="1159.59" r="1.30" fill="#b86f9c" stroke="#333" stroke-width="0.8"/>
<circle cx="914.41" cy="1148.60" r="1.30" fill="#b86f9c" stroke="#333" stroke-width="0.8"/>
<circle cx="925.40" cy="1137.61" r="1.30" fill="#b86f9c" stroke="#333" stroke-width="0.8"/>
<path d="M925.3 1177V1531" fill="none" stroke="#8a3a6a" stroke-width="14.60" stroke-linecap="round" stroke-linejoin="round"/>
<path d="M925.3 1177V1531" fill="none" stroke="#f18dc1" stroke-width="12.07" stroke-linecap="round" stroke-linejoin="round"/>
<path d="M914 1465V1530 M936.5 1424V1530 M914 1530H918 M932.6 1530H936.5 M936.5 1424Q950 1421 960.8 1424" fill="none" stroke="#1c1c1c" stroke-width="1.15" />
<path d="M857.8 1453.6V1475Q857.8 1478.8 854 1478.8 M914 1453.6H936" fill="none" stroke="#1c1c1c" stroke-width="1.15" />
<rect x="960.80" y="1039.00" width="5.70" height="419.00" fill="#fff" stroke="#1c1c1c" stroke-width="1.26" />
<path d="M966.5 1458V1574" fill="none" stroke="#1c1c1c" stroke-width="1.26" />
<rect x="966.50" y="1040.00" width="3.00" height="10.00" fill="#fff" stroke="#1c1c1c" stroke-width="1.03" />
<line x1="967.60" y1="1050.50" x2="967.60" y2="1118.00" stroke="#1c1c1c" stroke-width="2.3"/>
<rect x="967.60" y="1050.50" width="37.20" height="67.50" fill="#fff" stroke="#1c1c1c" stroke-width="1.26" />
<rect x="1004.80" y="1047.50" width="5.70" height="72.90" fill="#fff" stroke="#1c1c1c" stroke-width="1.26" />
<rect x="1010.50" y="1047.50" width="5.50" height="72.90" fill="#fff" stroke="#1c1c1c" stroke-width="1.26" />
<rect x="1016.00" y="1060.60" width="19.30" height="46.20" fill="#fff" stroke="#1c1c1c" stroke-width="1.26" />
<rect x="1035.30" y="1054.30" width="5.70" height="58.70" fill="#fff" stroke="#1c1c1c" stroke-width="1.26" />
<path d="M967.6 1118V1225 M967.6 1134H1001.4V1118 M1001.4 1122H1005V1131 M1005 1131H1013.2V1186H1001.4V1131" fill="none" stroke="#1c1c1c" stroke-width="1.15" />
<circle cx="986.30" cy="1174.50" r="22.60" fill="#fff" stroke="#1c1c1c" stroke-width="1.26"/>
<circle cx="986.30" cy="1156.50" r="2.20" fill="#fff" stroke="#1c1c1c" stroke-width="1.03"/>
<circle cx="973.57" cy="1161.77" r="2.20" fill="#fff" stroke="#1c1c1c" stroke-width="1.03"/>
<circle cx="968.30" cy="1174.50" r="2.20" fill="#fff" stroke="#1c1c1c" stroke-width="1.03"/>
<circle cx="973.57" cy="1187.23" r="2.20" fill="#fff" stroke="#1c1c1c" stroke-width="1.03"/>
<circle cx="986.30" cy="1192.50" r="2.20" fill="#fff" stroke="#1c1c1c" stroke-width="1.03"/>
<circle cx="999.03" cy="1187.23" r="2.20" fill="#fff" stroke="#1c1c1c" stroke-width="1.03"/>
<circle cx="1004.30" cy="1174.50" r="2.20" fill="#fff" stroke="#1c1c1c" stroke-width="1.03"/>
<circle cx="999.03" cy="1161.77" r="2.20" fill="#fff" stroke="#1c1c1c" stroke-width="1.03"/>
<circle cx="986.30" cy="1174.50" r="13.00" fill="#fff" stroke="#1c1c1c" stroke-width="1.26"/>
<path d="M1027.8 1249H1060A19.9 19.9 0 0 1 1060 1288.8H1027.8Z" fill="#c9cbca" stroke="#1c1c1c" stroke-width="1.26" />
<path d="M1027.8 1239.8H1060A19.9 19.9 0 0 1 1060 1279.6H1027.8Z" fill="#c9cbca" stroke="#1c1c1c" stroke-width="1.26" />
<rect x="967.60" y="1225.70" width="22.90" height="137.10" fill="#fff" stroke="#1c1c1c" stroke-width="1.26" />
<line x1="970.30" y1="1228.00" x2="970.30" y2="1360.00" stroke="#888" stroke-width="1.84"/>
<path d="M967.6 1225.7H991.3 M968.7 1219.5H996Q999 1219.5 999 1222.5 M968.7 1222.5H999" fill="none" stroke="#1c1c1c" stroke-width="1.15" />
<rect x="991.30" y="1225.70" width="30.40" height="28.90" fill="#fff" stroke="#1c1c1c" stroke-width="1.26" />
<rect x="1021.70" y="1216.30" width="6.10" height="46.90" fill="#fff" stroke="#1c1c1c" stroke-width="1.26" />
<path d="M994.5 1254.6V1330 M1016 1254.6V1306H1020V1295 M995.5 1281H1010V1318H995.5Z M1010 1305H1013.5V1285" fill="none" stroke="#1c1c1c" stroke-width="1.15" />
<rect x="968.70" y="1209.00" width="2.80" height="10.50" fill="#ddd" stroke="#1c1c1c" stroke-width="0.92" />
<rect x="991.30" y="1327.00" width="30.40" height="28.30" fill="#fff" stroke="#1c1c1c" stroke-width="1.26" />
<rect x="1021.70" y="1318.50" width="6.10" height="45.80" fill="#fff" stroke="#1c1c1c" stroke-width="1.26" />
<rect x="967.60" y="1360.00" width="30.40" height="95.50" fill="#fff" stroke="#1c1c1c" stroke-width="1.26" />
<path d="M967.6 1366H998 M967.6 1374H995" fill="none" stroke="#1c1c1c" stroke-width="1.15" />
<rect x="968.20" y="1364.00" width="3.20" height="9.00" fill="#ddd" stroke="#1c1c1c" stroke-width="0.92" />
<rect x="968.20" y="1377.00" width="3.20" height="9.00" fill="#ddd" stroke="#1c1c1c" stroke-width="0.92" />
<rect x="1002.60" y="1358.60" width="5.90" height="104.90" fill="#fff" stroke="#1c1c1c" stroke-width="1.26" />
<path d="M1010.5 1368Q1016 1368 1016 1376V1455Q1016 1463.5 1010.5 1463.5Z" fill="#fff" stroke="#1c1c1c" stroke-width="1.26" />
<path d="M1002.4 1368.0L998.3 1369.5V1372.5L1002.4 1374.0Z" fill="#333" stroke="#1c1c1c" stroke-width="0.69" />
<path d="M1002.4 1382.9L998.3 1384.4V1387.4L1002.4 1388.9Z" fill="#333" stroke="#1c1c1c" stroke-width="0.69" />
<path d="M1002.4 1397.8L998.3 1399.3V1402.3L1002.4 1403.8Z" fill="#333" stroke="#1c1c1c" stroke-width="0.69" />
<path d="M1002.4 1412.7L998.3 1414.2V1417.2L1002.4 1418.7Z" fill="#333" stroke="#1c1c1c" stroke-width="0.69" />
<path d="M1002.4 1427.6L998.3 1429.1V1432.1L1002.4 1433.6Z" fill="#333" stroke="#1c1c1c" stroke-width="0.69" />
<path d="M1002.4 1442.5L998.3 1444.0V1447.0L1002.4 1448.5Z" fill="#333" stroke="#1c1c1c" stroke-width="0.69" />
<path d="M1002.4 1457.4L998.3 1458.9V1461.9L1002.4 1463.4Z" fill="#333" stroke="#1c1c1c" stroke-width="0.69" />
<rect x="524.20" y="1210.30" width="166.70" height="195.30" fill="#9aa0b0" stroke="#2a2c30" stroke-width="1.32" />
<rect x="526.60" y="1212.70" width="161.90" height="190.50" fill="none" stroke="#c3c7d0" stroke-width="1.38" />
<rect x="551.20" y="1235.70" width="113.00" height="87.80" fill="#25282d" stroke="none" stroke-width="0.0" rx="2.5" />
<rect x="556.00" y="1240.50" width="103.80" height="61.90" fill="#fff" stroke="none" stroke-width="0.0" />
<rect x="557.50" y="1311.90" width="14.30" height="9.10" fill="#8f95a3" stroke="none" stroke-width="0.0" />
<line x1="564.40" y1="1303.50" x2="564.40" y2="1311.90" stroke="#9aa0b0" stroke-width="0.8"/>
<rect x="574.96" y="1311.90" width="14.30" height="9.10" fill="#8f95a3" stroke="none" stroke-width="0.0" />
<line x1="581.86" y1="1303.50" x2="581.86" y2="1311.90" stroke="#9aa0b0" stroke-width="0.8"/>
<rect x="592.42" y="1311.90" width="14.30" height="9.10" fill="#8f95a3" stroke="none" stroke-width="0.0" />
<line x1="599.32" y1="1303.50" x2="599.32" y2="1311.90" stroke="#9aa0b0" stroke-width="0.8"/>
<rect x="609.88" y="1311.90" width="14.30" height="9.10" fill="#8f95a3" stroke="none" stroke-width="0.0" />
<line x1="616.78" y1="1303.50" x2="616.78" y2="1311.90" stroke="#9aa0b0" stroke-width="0.8"/>
<rect x="627.34" y="1311.90" width="14.30" height="9.10" fill="#8f95a3" stroke="none" stroke-width="0.0" />
<line x1="634.24" y1="1303.50" x2="634.24" y2="1311.90" stroke="#9aa0b0" stroke-width="0.8"/>
<rect x="644.80" y="1311.90" width="14.30" height="9.10" fill="#8f95a3" stroke="none" stroke-width="0.0" />
<line x1="651.70" y1="1303.50" x2="651.70" y2="1311.90" stroke="#9aa0b0" stroke-width="0.8"/>
<rect x="534.00" y="1305.60" width="6.70" height="25.40" fill="#fff" stroke="#70747e" stroke-width="1.03" />
<rect x="535.00" y="1325.50" width="4.70" height="4.50" fill="#9aa0b0" stroke="#555" stroke-width="0.69" />
<circle cx="567.40" cy="1334.60" r="6.30" fill="#fbe3b8" stroke="#e9b8a0" stroke-width="1.38"/>
<circle cx="585.30" cy="1334.60" r="6.00" fill="#fff" stroke="#222" stroke-width="1.26"/>
<path d="M650.7 1329.4L655.6 1338H645.9Z" fill="#4a4d55" stroke="#2a2c30" stroke-width="0.92" />
<rect x="648.00" y="1338.40" width="5.50" height="2.90" fill="#3a3d44" stroke="none" stroke-width="0.0" />
<rect x="551.20" y="1342.90" width="113.00" height="39.60" fill="#1f2226" stroke="none" stroke-width="0.0" rx="3" />
<rect x="614.70" y="1350.00" width="11.40" height="8.70" fill="#8e939e" stroke="none" stroke-width="0.0" />
<rect x="614.70" y="1370.60" width="11.40" height="8.40" fill="#8e939e" stroke="none" stroke-width="0.0" />
<rect x="630.90" y="1350.00" width="11.90" height="8.70" fill="#8e939e" stroke="none" stroke-width="0.0" />
<rect x="630.90" y="1370.60" width="11.90" height="8.40" fill="#8e939e" stroke="none" stroke-width="0.0" />
<rect x="646.40" y="1350.00" width="12.30" height="8.70" fill="#8e939e" stroke="none" stroke-width="0.0" />
<rect x="646.40" y="1370.60" width="12.30" height="8.40" fill="#8e939e" stroke="none" stroke-width="0.0" />
<circle cx="556.40" cy="1347.20" r="1.00" fill="#6d7079" stroke="none" stroke-width="0.0"/>
<rect x="559.50" y="1345.60" width="8.00" height="3.20" fill="#a9acb3" stroke="none" stroke-width="0.0" />
<circle cx="556.40" cy="1355.10" r="1.00" fill="#6d7079" stroke="none" stroke-width="0.0"/>
<rect x="559.50" y="1353.50" width="24.00" height="3.20" fill="#a9acb3" stroke="none" stroke-width="0.0" />
<circle cx="556.40" cy="1363.00" r="1.00" fill="#6d7079" stroke="none" stroke-width="0.0"/>
<rect x="559.50" y="1361.40" width="25.00" height="3.20" fill="#a9acb3" stroke="none" stroke-width="0.0" />
<circle cx="556.40" cy="1370.90" r="1.00" fill="#6d7079" stroke="none" stroke-width="0.0"/>
<rect x="559.50" y="1369.30" width="15.00" height="3.20" fill="#a9acb3" stroke="none" stroke-width="0.0" />
<circle cx="556.40" cy="1378.80" r="1.00" fill="#6d7079" stroke="none" stroke-width="0.0"/>
<rect x="559.50" y="1377.20" width="15.00" height="3.20" fill="#a9acb3" stroke="none" stroke-width="0.0" />
<rect x="599.50" y="1343.70" width="16.50" height="3.00" fill="#a9acb3" stroke="none" stroke-width="0.0" />
<rect x="599.50" y="1364.50" width="16.50" height="3.00" fill="#a9acb3" stroke="none" stroke-width="0.0" />
<rect x="601.00" y="1350.10" width="9.50" height="2.80" fill="#a9acb3" stroke="none" stroke-width="0.0" />
<rect x="601.00" y="1355.60" width="9.50" height="2.80" fill="#a9acb3" stroke="none" stroke-width="0.0" />
<rect x="601.00" y="1370.60" width="9.50" height="2.80" fill="#a9acb3" stroke="none" stroke-width="0.0" />
<rect x="601.00" y="1376.40" width="9.50" height="2.80" fill="#a9acb3" stroke="none" stroke-width="0.0" />
<line x1="598.50" y1="1354.20" x2="612.50" y2="1354.20" stroke="#a9acb3" stroke-width="0.69"/>
<line x1="598.50" y1="1374.80" x2="612.50" y2="1374.80" stroke="#a9acb3" stroke-width="0.69"/>
<text class="lb" x="362.13" y="1061.57" font-size="14.6">추기탱크</text>
<text class="lb" x="238.94" y="1095.06" font-size="14.4">추기이젝터</text>
<text class="lb" x="396.85" y="1342.46" font-size="11.9">블로우</text>
<text class="lb" x="389.86" y="1357.67" font-size="12.6">다운밸브</text>
<text class="lb" font-size="14"><tspan x="259.7" y="1378.22">추</tspan><tspan x="259.7" y="1397.75">기</tspan><tspan x="259.7" y="1414.34">챔</tspan><tspan x="259.7" y="1432.71">버</tspan></text>
<text class="lb" x="200.09" y="1462.07" font-size="13">트랩</text>
<text class="lb" x="130.97" y="1543.00" font-size="13.5">추기펌프</text>
<text class="lb" x="368.47" y="1511.68" font-size="13.6">보조열교환기</text>
<text class="lb" x="537.21" y="1514.67" font-size="14.8">제2용액</text>
<text class="lb" x="534.59" y="1532.08" font-size="14.6">열교환기</text>
<text class="lb" x="691.62" y="1513.89" font-size="14.4">제1용액</text>
<text class="lb" x="687.50" y="1531.37" font-size="14.4">열교환기</text>
<text class="lb" x="798.73" y="1495.52" font-size="11.8">농용액펌프</text>
<text class="lb" x="721.82" y="1334.59" font-size="12.5">증발기</text>
<text class="lb" x="721.96" y="1349.78" font-size="12.1">점검창</text>
<text class="lb" x="287.72" y="1590.21" font-size="12.3">보조흡수기펌프</text>
<text class="lb" x="405.40" y="1590.20" font-size="12.3">냉매펌프</text>
<text class="lb" x="536.52" y="1594.15" font-size="12.4">보조재생기펌프</text>
<text class="lb" x="686.33" y="1592.29" font-size="12.4">흡수액펌프</text>
<text class="lb" x="811.74" y="1593.23" font-size="12.2">중간용액펌프</text>
</g>
</svg></body></html>
